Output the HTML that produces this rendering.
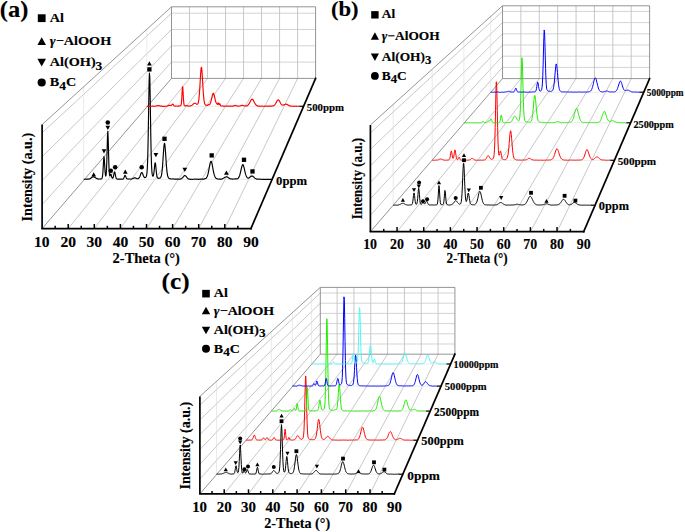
<!DOCTYPE html>
<html><head><meta charset="utf-8"><style>
html,body{margin:0;padding:0;background:#fff;}
svg{display:block;}
text{font-family:"Liberation Serif",serif;font-weight:bold;fill:#000;stroke:#000;stroke-width:0.15px;}
</style></head><body>
<svg width="685" height="532" viewBox="0 0 685 532">
<rect width="685" height="532" fill="#fff"/>
<line x1="189.51" y1="78.4" x2="189.51" y2="6.8" stroke="#b0b0b0" stroke-width="0.7"/>
<line x1="207.53" y1="78.4" x2="207.53" y2="6.8" stroke="#b0b0b0" stroke-width="0.7"/>
<line x1="225.54" y1="78.4" x2="225.54" y2="6.8" stroke="#b0b0b0" stroke-width="0.7"/>
<line x1="243.55" y1="78.4" x2="243.55" y2="6.8" stroke="#b0b0b0" stroke-width="0.7"/>
<line x1="261.56" y1="78.4" x2="261.56" y2="6.8" stroke="#b0b0b0" stroke-width="0.7"/>
<line x1="279.58" y1="78.4" x2="279.58" y2="6.8" stroke="#b0b0b0" stroke-width="0.7"/>
<line x1="297.59" y1="78.4" x2="297.59" y2="6.8" stroke="#b0b0b0" stroke-width="0.7"/>
<line x1="171.5" y1="62.1" x2="315.6" y2="62.1" stroke="#c2c2c2" stroke-width="0.7"/>
<line x1="171.5" y1="45.8" x2="315.6" y2="45.8" stroke="#c2c2c2" stroke-width="0.7"/>
<line x1="171.5" y1="29.5" x2="315.6" y2="29.5" stroke="#c2c2c2" stroke-width="0.7"/>
<line x1="171.5" y1="13.2" x2="315.6" y2="13.2" stroke="#c2c2c2" stroke-width="0.7"/>
<line x1="42.1" y1="204.65" x2="171.5" y2="62.1" stroke="#b0b0b0" stroke-width="0.7"/>
<line x1="42.1" y1="180.7" x2="171.5" y2="45.8" stroke="#b0b0b0" stroke-width="0.7"/>
<line x1="42.1" y1="156.75" x2="171.5" y2="29.5" stroke="#b0b0b0" stroke-width="0.7"/>
<line x1="42.1" y1="132.8" x2="171.5" y2="13.2" stroke="#b0b0b0" stroke-width="0.7"/>
<line x1="68.2" y1="228.6" x2="189.51" y2="78.4" stroke="#b0b0b0" stroke-width="0.7"/>
<line x1="94.3" y1="228.6" x2="207.53" y2="78.4" stroke="#b0b0b0" stroke-width="0.7"/>
<line x1="120.4" y1="228.6" x2="225.54" y2="78.4" stroke="#b0b0b0" stroke-width="0.7"/>
<line x1="146.5" y1="228.6" x2="243.55" y2="78.4" stroke="#b0b0b0" stroke-width="0.7"/>
<line x1="172.6" y1="228.6" x2="261.56" y2="78.4" stroke="#b0b0b0" stroke-width="0.7"/>
<line x1="198.7" y1="228.6" x2="279.58" y2="78.4" stroke="#b0b0b0" stroke-width="0.7"/>
<line x1="224.8" y1="228.6" x2="297.59" y2="78.4" stroke="#b0b0b0" stroke-width="0.7"/>
<line x1="83.7" y1="179.4" x2="272.09" y2="179.4" stroke="#dedede" stroke-width="0.6"/>
<line x1="83.7" y1="86.73" x2="83.7" y2="179.4" stroke="#dcdcdc" stroke-width="0.6"/>
<line x1="146.8" y1="106.3" x2="303.58" y2="106.3" stroke="#dedede" stroke-width="0.6"/>
<line x1="146.8" y1="29.29" x2="146.8" y2="106.3" stroke="#dcdcdc" stroke-width="0.6"/>
<path d="M171.5 78.4L171.5 6.8L315.6 6.8L315.6 78.4" fill="none" stroke="#7a7a7a" stroke-width="0.8"/>
<line x1="171.5" y1="78.4" x2="315.6" y2="78.4" stroke="#7a7a7a" stroke-width="0.8"/>
<line x1="42.1" y1="124.6" x2="171.5" y2="6.8" stroke="#7a7a7a" stroke-width="0.8"/>
<line x1="42.1" y1="228.6" x2="171.5" y2="78.4" stroke="#7a7a7a" stroke-width="0.8"/>
<path d="M83.7 179.3 84.05 179.24 84.4 179.31 84.75 179.23 85.1 179.27 85.45 179.26 85.8 179.19 86.15 179.23 86.5 179.16 86.85 179.19 87.2 179.13 87.55 179.08 87.9 179.11 88.24 179.18 88.59 179.05 88.94 178.95 89.29 178.92 89.64 178.9 89.99 178.74 90.34 178.51 90.69 178.39 91.04 178.02 91.39 177.85 91.74 177.54 92.09 177.23 92.44 176.97 92.79 176.81 93.14 176.82 93.49 176.74 93.84 176.83 94.19 177 94.54 177.15 94.89 177.39 95.24 177.55 95.59 177.74 95.94 177.97 96.29 178.28 96.64 178.47 96.99 178.61 97.33 178.78 97.68 178.87 98.03 178.91 98.38 179.04 98.73 179.09 99.08 179.03 99.43 179.05 99.78 179.04 100.13 179.09 100.48 179.06 100.83 178.92 101.18 178.93 101.53 178.68 101.88 178.39 102.23 177.72 102.58 175.81 102.93 172.06 103.28 166.1 103.63 159.83 103.98 156.65 104.33 159.07 104.68 165.14 105.03 170.95 105.38 174.72 105.73 176.08 106.07 175.15 106.42 171.11 106.77 162.65 107.12 149.79 107.47 136.64 107.82 131.31 108.17 138.03 108.52 151.6 108.87 164.12 109.22 172.04 109.57 175.45 109.92 175.9 110.27 175.04 110.62 174.14 110.97 174.16 111.32 175.42 111.67 176.84 112.02 177.8 112.37 178.17 112.72 178.22 113.07 177.61 113.42 176.49 113.77 174.89 114.12 173.25 114.47 172.03 114.82 172.24 115.16 173.66 115.51 175.57 115.86 177.18 116.21 178.25 116.56 178.72 116.91 178.95 117.26 179.03 117.61 179.17 117.96 179.27 118.31 179.17 118.66 179.12 119.01 179.1 119.36 179.09 119.71 179.14 120.06 179.19 120.41 179.15 120.76 179.08 121.11 179.11 121.46 179.12 121.81 179.16 122.16 179.25 122.51 179.24 122.86 179.14 123.21 178.97 123.56 178.62 123.9 177.86 124.25 177.02 124.6 176.04 124.95 175.4 125.3 175.48 125.65 176.17 126 177.15 126.35 177.96 126.7 178.61 127.05 178.85 127.4 178.95 127.75 179.01 128.1 179.02 128.45 179.06 128.8 179.03 129.15 179 129.5 179.01 129.85 179 130.2 179.04 130.55 178.99 130.9 179.11 131.25 179.11 131.6 178.97 131.95 178.86 132.3 178.74 132.65 178.58 132.99 178.34 133.34 178.25 133.69 178.15 134.04 177.94 134.39 177.84 134.74 177.75 135.09 177.79 135.44 177.97 135.79 178.14 136.14 178.43 136.49 178.52 136.84 178.57 137.19 178.78 137.54 178.8 137.89 178.69 138.24 178.61 138.59 178.31 138.94 178.03 139.29 177.66 139.64 177.05 139.99 176.22 140.34 175.19 140.69 174.18 141.04 173.25 141.39 172.72 141.74 172.51 142.08 172.79 142.43 173.32 142.78 174.09 143.13 175.06 143.48 175.98 143.83 176.69 144.18 177.2 144.53 177.52 144.88 177.65 145.23 177.54 145.58 177.4 145.93 177.06 146.28 176.41 146.63 175.21 146.98 172.85 147.33 168.07 147.68 159.38 148.03 145.33 148.38 125.71 148.73 103.26 149.08 83.29 149.43 73.03 149.78 77.27 150.13 93.97 150.48 116.19 150.82 137.43 151.17 153.93 151.52 164.89 151.87 171.21 152.22 174.4 152.57 175.77 152.92 176.2 153.27 175.9 153.62 174.53 153.97 172.22 154.32 168.96 154.67 165.4 155.02 162.95 155.37 162.94 155.72 165.41 156.07 169.23 156.42 172.73 156.77 175.4 157.12 177.05 157.47 177.77 157.82 178.09 158.17 178.33 158.52 178.39 158.87 178.3 159.22 178.2 159.57 178.1 159.91 178.12 160.26 177.96 160.61 177.49 160.96 176.92 161.31 175.92 161.66 174.21 162.01 171.64 162.36 168.2 162.71 163.74 163.06 158.56 163.41 153.31 163.76 148.37 164.11 144.69 164.46 143.22 164.81 144.15 165.16 147.47 165.51 152.26 165.86 157.53 166.21 162.71 166.56 167.28 166.91 170.93 167.26 173.71 167.61 175.56 167.96 176.8 168.31 177.5 168.65 178.09 169 178.33 169.35 178.5 169.7 178.64 170.05 178.81 170.4 178.82 170.75 178.95 171.1 178.95 171.45 178.97 171.8 178.99 172.15 178.91 172.5 178.96 172.85 178.94 173.2 178.9 173.55 179.04 173.9 179.01 174.25 179.05 174.6 179.13 174.95 179.15 175.3 179.11 175.65 179.14 176 179.16 176.35 179.22 176.7 179.12 177.05 179.15 177.4 179.11 177.74 179.09 178.09 179.18 178.44 179.17 178.79 179.18 179.14 179.22 179.49 179.26 179.84 179.17 180.19 179.12 180.54 179.03 180.89 178.92 181.24 178.81 181.59 178.58 181.94 178.31 182.29 177.97 182.64 177.67 182.99 177.24 183.34 176.83 183.69 176.43 184.04 175.94 184.39 175.66 184.74 175.62 185.09 175.7 185.44 175.79 185.79 176.05 186.14 176.49 186.48 176.88 186.83 177.32 187.18 177.69 187.53 178.14 187.88 178.51 188.23 178.81 188.58 178.87 188.93 179.03 189.28 179.13 189.63 179.1 189.98 179.23 190.33 179.32 190.68 179.23 191.03 179.33 191.38 179.27 191.73 179.26 192.08 179.35 192.43 179.38 192.78 179.26 193.13 179.24 193.48 179.25 193.83 179.22 194.18 179.17 194.53 179.17 194.88 179.25 195.23 179.15 195.57 179.2 195.92 179.21 196.27 179.13 196.62 179.14 196.97 179.21 197.32 179.22 197.67 179.14 198.02 179.27 198.37 179.31 198.72 179.37 199.07 179.23 199.42 179.17 199.77 179.09 200.12 179.18 200.47 179.13 200.82 179.07 201.17 179.09 201.52 179.19 201.87 179.23 202.22 179.13 202.57 179.04 202.92 179.13 203.27 179.11 203.62 179.1 203.97 178.96 204.31 178.84 204.66 178.86 205.01 178.77 205.36 178.58 205.71 178.53 206.06 178.28 206.41 177.96 206.76 177.33 207.11 176.73 207.46 175.72 207.81 174.68 208.16 173.27 208.51 171.62 208.86 169.84 209.21 168.02 209.56 166.04 209.91 164.2 210.26 162.77 210.61 161.73 210.96 161.28 211.31 161.51 211.66 162.34 212.01 163.71 212.36 165.44 212.71 167.34 213.06 169.36 213.4 171.16 213.75 172.85 214.1 174.23 214.45 175.43 214.8 176.32 215.15 177.07 215.5 177.57 215.85 178.09 216.2 178.4 216.55 178.55 216.9 178.71 217.25 178.91 217.6 178.87 217.95 179 218.3 179 218.65 179.03 219 179.11 219.35 179.08 219.7 179.08 220.05 179.11 220.4 179.19 220.75 179.1 221.1 179.12 221.45 179.09 221.8 179.03 222.15 178.9 222.49 178.76 222.84 178.54 223.19 178.35 223.54 178.13 223.89 178.03 224.24 177.77 224.59 177.49 224.94 177.22 225.29 177.13 225.64 177.03 225.99 176.92 226.34 176.8 226.69 176.78 227.04 176.86 227.39 177.04 227.74 177.2 228.09 177.46 228.44 177.69 228.79 178.06 229.14 178.36 229.49 178.52 229.84 178.61 230.19 178.84 230.54 178.88 230.89 178.93 231.23 178.9 231.58 178.97 231.93 179.03 232.28 179.08 232.63 179.04 232.98 179.08 233.33 179 233.68 179 234.03 178.96 234.38 178.99 234.73 178.94 235.08 178.89 235.43 178.9 235.78 178.89 236.13 178.93 236.48 178.91 236.83 178.9 237.18 178.82 237.53 178.69 237.88 178.53 238.23 178.15 238.58 177.67 238.93 177.2 239.28 176.35 239.63 175.46 239.98 174.33 240.32 172.89 240.67 171.5 241.02 170 241.37 168.43 241.72 167 242.07 165.83 242.42 164.91 242.77 164.61 243.12 164.83 243.47 165.62 243.82 166.78 244.17 168.21 244.52 169.72 244.87 171.32 245.22 172.8 245.57 174.13 245.92 175.19 246.27 176.04 246.62 176.73 246.97 177.3 247.32 177.63 247.67 177.97 248.02 178.09 248.37 178.11 248.72 178.03 249.06 177.88 249.41 177.63 249.76 177.25 250.11 177.06 250.46 176.81 250.81 176.51 251.16 176.27 251.51 176.13 251.86 175.95 252.21 176.04 252.56 176.11 252.91 176.24 253.26 176.51 253.61 176.91 253.96 177.19 254.31 177.59 254.66 177.99 255.01 178.23 255.36 178.42 255.71 178.62 256.06 178.82 256.41 178.98 256.76 179.08 257.11 179.15 257.46 179.1 257.81 179.08 258.15 179.1 258.5 179.22 258.85 179.2 259.2 179.25 259.55 179.16 259.9 179.13 260.25 179.15 260.6 179.24 260.95 179.31 261.3 179.34 261.65 179.29 262 179.3 262.35 179.3 262.7 179.3 263.05 179.24 263.4 179.35 263.75 179.28 264.1 179.4 264.45 179.46 264.8 179.32 265.15 179.32 265.5 179.39 265.85 179.47 266.2 179.41 266.55 179.34 266.89 179.28 267.24 179.4 267.59 179.32 267.94 179.35 268.29 179.28" fill="none" stroke="#000" stroke-width="1.15" stroke-linejoin="round"/>
<line x1="267.99" y1="179.4" x2="272.39" y2="179.4" stroke="#000" stroke-width="1.2"/>
<path d="M146.8 106.29 147.15 106.38 147.5 106.27 147.85 106.34 148.2 106.32 148.55 106.38 148.9 106.38 149.24 106.29 149.59 106.36 149.94 106.33 150.29 106.21 150.64 106.14 150.99 106.19 151.34 106.22 151.69 106.2 152.04 106.16 152.39 106.17 152.74 106.17 153.09 106.28 153.44 106.17 153.79 106.25 154.13 106.32 154.48 106.2 154.83 106.28 155.18 106.26 155.53 106.26 155.88 106.1 156.23 105.98 156.58 105.87 156.93 105.87 157.28 105.76 157.63 105.64 157.98 105.59 158.33 105.57 158.68 105.56 159.02 105.62 159.37 105.85 159.72 105.91 160.07 106.1 160.42 106.1 160.77 106.11 161.12 106.17 161.47 106.14 161.82 106.16 162.17 106.29 162.52 106.35 162.87 106.37 163.22 106.35 163.57 106.39 163.91 106.42 164.26 106.36 164.61 106.35 164.96 106.21 165.31 106.26 165.66 106.23 166.01 106.25 166.36 106.23 166.71 106.11 167.06 105.96 167.41 105.99 167.76 105.78 168.11 105.66 168.45 105.51 168.8 105.36 169.15 105.34 169.5 105.4 169.85 105.33 170.2 105.43 170.55 105.45 170.9 105.5 171.25 105.39 171.6 105.07 171.95 104.63 172.3 104.19 172.65 104.1 173 104.27 173.34 104.68 173.69 105.31 174.04 105.81 174.39 106.01 174.74 106.05 175.09 106.06 175.44 106.03 175.79 106.06 176.14 106.02 176.49 106.03 176.84 106.03 177.19 106.1 177.54 106.19 177.89 106.22 178.23 106.16 178.58 106.11 178.93 106.1 179.28 106.04 179.63 105.98 179.98 105.85 180.33 105.76 180.68 105.72 181.03 105.08 181.38 103.39 181.73 99.35 182.08 92.85 182.43 86.84 182.78 86.81 183.12 92.7 183.47 99.28 183.82 103.36 184.17 105.17 184.52 105.76 184.87 105.96 185.22 105.87 185.57 105.75 185.92 105.69 186.27 105.61 186.62 105.55 186.97 105.73 187.32 105.82 187.67 105.94 188.01 106.09 188.36 106.14 188.71 106.17 189.06 106.21 189.41 106.07 189.76 105.94 190.11 105.85 190.46 105.83 190.81 105.8 191.16 105.76 191.51 105.6 191.86 105.38 192.21 105.13 192.55 104.78 192.9 104.44 193.25 103.99 193.6 103.75 193.95 103.42 194.3 103.33 194.65 103.26 195 103.23 195.35 103.3 195.7 103.48 196.05 103.79 196.4 104.07 196.75 104.17 197.1 104.2 197.44 104.18 197.79 103.9 198.14 103.14 198.49 101.76 198.84 99.61 199.19 96.27 199.54 91.85 199.89 86.43 200.24 80.48 200.59 74.58 200.94 69.91 201.29 67.42 201.64 67.88 201.99 71.19 202.33 76.58 202.68 82.68 203.03 88.55 203.38 93.6 203.73 97.68 204.08 100.65 204.43 102.58 204.78 103.75 205.13 104.53 205.48 105.04 205.83 105.19 206.18 105.24 206.53 105.33 206.88 105.38 207.22 105.43 207.57 105.25 207.92 105.1 208.27 104.85 208.62 104.63 208.97 104.53 209.32 104.63 209.67 104.39 210.02 104.01 210.37 103.2 210.72 102.14 211.07 100.98 211.42 99.48 211.76 98.01 212.11 96.41 212.46 94.92 212.81 93.82 213.16 93.28 213.51 93.41 213.86 94.19 214.21 95.24 214.56 96.7 214.91 98.25 215.26 99.94 215.61 101.25 215.96 102.28 216.31 102.87 216.65 103.21 217 103.86 217.35 104.41 217.7 103.92 218.05 102.9 218.4 103.17 218.75 104.35 219.1 104.6 219.45 103.91 219.8 103.68 220.15 104.57 220.5 105.57 220.85 105.91 221.2 105.98 221.54 106 221.89 105.98 222.24 105.94 222.59 105.97 222.94 106.01 223.29 106.16 223.64 106.08 223.99 106.21 224.34 106.13 224.69 106.12 225.04 106.21 225.39 106.26 225.74 106.22 226.09 106.12 226.43 106.14 226.78 106.14 227.13 106.24 227.48 106.17 227.83 106.15 228.18 106.25 228.53 106.14 228.88 106.15 229.23 106.23 229.58 106.27 229.93 106.15 230.28 106.08 230.63 106.04 230.97 106.19 231.32 106.14 231.67 106.2 232.02 106.26 232.37 106.16 232.72 106.07 233.07 106.12 233.42 106.03 233.77 105.86 234.12 105.8 234.47 105.65 234.82 105.52 235.17 105.38 235.52 105.47 235.86 105.61 236.21 105.69 236.56 105.85 236.91 105.81 237.26 105.86 237.61 105.95 237.96 106.12 238.31 106.21 238.66 106.15 239.01 106.06 239.36 106.01 239.71 105.95 240.06 105.95 240.41 105.73 240.75 105.67 241.1 105.57 241.45 105.49 241.8 105.43 242.15 105.4 242.5 105.38 242.85 105.43 243.2 105.53 243.55 105.73 243.9 105.75 244.25 105.8 244.6 105.96 244.95 105.95 245.3 105.9 245.64 105.84 245.99 105.89 246.34 105.84 246.69 105.89 247.04 105.83 247.39 105.72 247.74 105.39 248.09 105 248.44 104.57 248.79 104.17 249.14 103.7 249.49 103.08 249.84 102.35 250.18 101.65 250.53 100.98 250.88 100.36 251.23 99.83 251.58 99.46 251.93 99.23 252.28 99.11 252.63 99.42 252.98 99.77 253.33 100.36 253.68 101 254.03 101.77 254.38 102.4 254.73 103.04 255.07 103.63 255.42 104.13 255.77 104.71 256.12 105.09 256.47 105.34 256.82 105.55 257.17 105.82 257.52 105.91 257.87 105.93 258.22 106.06 258.57 106.11 258.92 106.22 259.27 106.11 259.62 106.12 259.96 106.2 260.31 106.25 260.66 106.3 261.01 106.16 261.36 106.13 261.71 106.07 262.06 106.06 262.41 106.21 262.76 106.22 263.11 106.3 263.46 106.23 263.81 106.29 264.16 106.24 264.51 106.18 264.85 106.24 265.2 106.32 265.55 106.19 265.9 106.21 266.25 106.23 266.6 106.16 266.95 106.15 267.3 106.1 267.65 106.08 268 106.07 268.35 106.14 268.7 106.19 269.05 106.12 269.4 106.04 269.74 106.06 270.09 106.13 270.44 106.07 270.79 106.06 271.14 106.02 271.49 106.11 271.84 106.1 272.19 105.98 272.54 105.89 272.89 105.86 273.24 105.82 273.59 105.74 273.94 105.48 274.28 105.2 274.63 104.97 274.98 104.57 275.33 104.05 275.68 103.46 276.03 102.94 276.38 102.2 276.73 101.53 277.08 100.86 277.43 100.32 277.78 100.03 278.13 99.94 278.48 99.92 278.83 100.13 279.17 100.65 279.52 101.18 279.87 101.76 280.22 102.56 280.57 103.18 280.92 103.82 281.27 104.26 281.62 104.71 281.97 104.94 282.32 105.02 282.67 105.02 283.02 105.08 283.37 105.07 283.72 105.05 284.06 104.79 284.41 104.66 284.76 104.48 285.11 104.35 285.46 104.18 285.81 104.11 286.16 104.16 286.51 104.33 286.86 104.35 287.21 104.53 287.56 104.79 287.91 105.07 288.26 105.17 288.61 105.28 288.95 105.57 289.3 105.8 289.65 105.87 290 105.86 290.35 106.05 290.7 106.07 291.05 106.19 291.4 106.22 291.75 106.28 292.1 106.18 292.45 106.26 292.8 106.19 293.15 106.19 293.49 106.27 293.84 106.33 294.19 106.23 294.54 106.18 294.89 106.19 295.24 106.21 295.59 106.21 295.94 106.15 296.29 106.14 296.64 106.23 296.99 106.32 297.34 106.21 297.69 106.24 298.04 106.3 298.38 106.19 298.73 106.29 299.08 106.2 299.43 106.25 299.78 106.27" fill="none" stroke="#ff0000" stroke-width="1.15" stroke-linejoin="round"/>
<line x1="299.48" y1="106.3" x2="303.88" y2="106.3" stroke="#000" stroke-width="1.2"/>
<path d="M93.7 172.23L96.06 176.53L91.34 176.53Z" fill="#000"/>
<path d="M104 153.56L106.36 149.26L101.64 149.26Z" fill="#000"/>
<path d="M107.8 129.97L110.16 125.66L105.44 125.66Z" fill="#000"/>
<circle cx="107.8" cy="122.6" r="2.26" fill="#000"/>
<circle cx="110.8" cy="170.7" r="2.26" fill="#000"/>
<circle cx="115.2" cy="167.3" r="2.26" fill="#000"/>
<path d="M125.3 169.44L127.66 173.74L122.94 173.74Z" fill="#000"/>
<circle cx="141.7" cy="167.3" r="2.26" fill="#000"/>
<rect x="147.25" y="67.25" width="4.3" height="4.3" fill="#000"/>
<path d="M149.4 61.23L151.77 65.53L147.03 65.53Z" fill="#000"/>
<path d="M155.9 157.37L158.27 153.06L153.53 153.06Z" fill="#000"/>
<rect x="162.35" y="136.65" width="4.3" height="4.3" fill="#000"/>
<path d="M184.8 171.97L187.17 167.66L182.44 167.66Z" fill="#000"/>
<rect x="209.55" y="153.25" width="4.3" height="4.3" fill="#000"/>
<path d="M226.4 170.53L228.77 174.84L224.03 174.84Z" fill="#000"/>
<rect x="241.85" y="157.65" width="4.3" height="4.3" fill="#000"/>
<rect x="250.35" y="169.25" width="4.3" height="4.3" fill="#000"/>
<line x1="42.1" y1="228.6" x2="250.9" y2="228.6" stroke="#000" stroke-width="1.7" stroke-linecap="square"/>
<line x1="42.1" y1="228.6" x2="42.1" y2="124.6" stroke="#000" stroke-width="1.7"/>
<line x1="250.9" y1="228.6" x2="315.6" y2="78.4" stroke="#000" stroke-width="1.7" stroke-linecap="square"/>
<line x1="55.15" y1="228.6" x2="55.15" y2="225.8" stroke="#000" stroke-width="1.5"/>
<line x1="68.2" y1="228.6" x2="68.2" y2="224" stroke="#000" stroke-width="1.5"/>
<line x1="81.25" y1="228.6" x2="81.25" y2="225.8" stroke="#000" stroke-width="1.5"/>
<line x1="94.3" y1="228.6" x2="94.3" y2="224" stroke="#000" stroke-width="1.5"/>
<line x1="107.35" y1="228.6" x2="107.35" y2="225.8" stroke="#000" stroke-width="1.5"/>
<line x1="120.4" y1="228.6" x2="120.4" y2="224" stroke="#000" stroke-width="1.5"/>
<line x1="133.45" y1="228.6" x2="133.45" y2="225.8" stroke="#000" stroke-width="1.5"/>
<line x1="146.5" y1="228.6" x2="146.5" y2="224" stroke="#000" stroke-width="1.5"/>
<line x1="159.55" y1="228.6" x2="159.55" y2="225.8" stroke="#000" stroke-width="1.5"/>
<line x1="172.6" y1="228.6" x2="172.6" y2="224" stroke="#000" stroke-width="1.5"/>
<line x1="185.65" y1="228.6" x2="185.65" y2="225.8" stroke="#000" stroke-width="1.5"/>
<line x1="198.7" y1="228.6" x2="198.7" y2="224" stroke="#000" stroke-width="1.5"/>
<line x1="211.75" y1="228.6" x2="211.75" y2="225.8" stroke="#000" stroke-width="1.5"/>
<line x1="224.8" y1="228.6" x2="224.8" y2="224" stroke="#000" stroke-width="1.5"/>
<line x1="237.85" y1="228.6" x2="237.85" y2="225.8" stroke="#000" stroke-width="1.5"/>
<text transform="translate(34.02 246.9) scale(1.05 1)" font-size="14.8">10</text>
<text transform="translate(60.43 246.9) scale(1.05 1)" font-size="14.8">20</text>
<text transform="translate(86.57 246.9) scale(1.05 1)" font-size="14.8">30</text>
<text transform="translate(112.82 246.9) scale(1.05 1)" font-size="14.8">40</text>
<text transform="translate(138.73 246.9) scale(1.05 1)" font-size="14.8">50</text>
<text transform="translate(164.87 246.9) scale(1.05 1)" font-size="14.8">60</text>
<text transform="translate(190.81 246.9) scale(1.05 1)" font-size="14.8">70</text>
<text transform="translate(217.07 246.9) scale(1.05 1)" font-size="14.8">80</text>
<text transform="translate(243.25 246.9) scale(1.05 1)" font-size="14.8">90</text>
<text transform="translate(276.09 184.5) scale(1.03 1)" font-size="12.33">0ppm</text>
<text transform="translate(306.77 110.5) scale(1.04 1)" font-size="10.38">500ppm</text>
<text transform="translate(112.62 263.1) scale(1.02 1)" font-size="14.2">2-Theta (&#176;)</text>
<text transform="translate(31.6 221.4) rotate(-90) scale(1 1)" font-size="14.2">Intensity (a.u.)</text>
<text transform="translate(-0.2 17.4) scale(1.03 1)" font-size="23.74">(a)</text>
<rect x="37.8" y="14.29" width="7.8" height="7.8" fill="#000"/>
<text transform="translate(49.86 21.9) scale(1.11 1)" font-size="12.8">Al</text>
<path d="M41.7 37.3L45.99 45.1L37.41 45.1Z" fill="#000"/>
<text transform="translate(49.86 45.3) scale(1.11 1)" font-size="12.8"><tspan font-style="italic">&#947;</tspan>&#8722;AlOOH</text>
<path d="M41.7 66.58L45.99 58.78L37.41 58.78Z" fill="#000"/>
<text transform="translate(49.86 66) scale(1.11 1)" font-size="12.8">Al(OH)<tspan dy="3.58" font-size="12.16">3</tspan></text>
<circle cx="41.7" cy="82.49" r="4.09" fill="#000"/>
<text transform="translate(49.86 86.2) scale(1.11 1)" font-size="12.8">B<tspan dy="3.58" font-size="12.16">4</tspan><tspan dy="-3.58">C</tspan></text>
<line x1="520.89" y1="78.6" x2="520.89" y2="5.8" stroke="#b0b0b0" stroke-width="0.7"/>
<line x1="539.27" y1="78.6" x2="539.27" y2="5.8" stroke="#b0b0b0" stroke-width="0.7"/>
<line x1="557.66" y1="78.6" x2="557.66" y2="5.8" stroke="#b0b0b0" stroke-width="0.7"/>
<line x1="576.05" y1="78.6" x2="576.05" y2="5.8" stroke="#b0b0b0" stroke-width="0.7"/>
<line x1="594.44" y1="78.6" x2="594.44" y2="5.8" stroke="#b0b0b0" stroke-width="0.7"/>
<line x1="612.83" y1="78.6" x2="612.83" y2="5.8" stroke="#b0b0b0" stroke-width="0.7"/>
<line x1="631.21" y1="78.6" x2="631.21" y2="5.8" stroke="#b0b0b0" stroke-width="0.7"/>
<line x1="502.5" y1="67.4" x2="649.6" y2="67.4" stroke="#c2c2c2" stroke-width="0.7"/>
<line x1="502.5" y1="56.2" x2="649.6" y2="56.2" stroke="#c2c2c2" stroke-width="0.7"/>
<line x1="502.5" y1="45" x2="649.6" y2="45" stroke="#c2c2c2" stroke-width="0.7"/>
<line x1="502.5" y1="33.8" x2="649.6" y2="33.8" stroke="#c2c2c2" stroke-width="0.7"/>
<line x1="502.5" y1="22.6" x2="649.6" y2="22.6" stroke="#c2c2c2" stroke-width="0.7"/>
<line x1="502.5" y1="11.4" x2="649.6" y2="11.4" stroke="#c2c2c2" stroke-width="0.7"/>
<line x1="370.4" y1="215.25" x2="502.5" y2="67.4" stroke="#b0b0b0" stroke-width="0.7"/>
<line x1="370.4" y1="198.8" x2="502.5" y2="56.2" stroke="#b0b0b0" stroke-width="0.7"/>
<line x1="370.4" y1="182.35" x2="502.5" y2="45" stroke="#b0b0b0" stroke-width="0.7"/>
<line x1="370.4" y1="165.9" x2="502.5" y2="33.8" stroke="#b0b0b0" stroke-width="0.7"/>
<line x1="370.4" y1="149.45" x2="502.5" y2="22.6" stroke="#b0b0b0" stroke-width="0.7"/>
<line x1="370.4" y1="133" x2="502.5" y2="11.4" stroke="#b0b0b0" stroke-width="0.7"/>
<line x1="397.06" y1="231.7" x2="520.89" y2="78.6" stroke="#b0b0b0" stroke-width="0.7"/>
<line x1="423.73" y1="231.7" x2="539.27" y2="78.6" stroke="#b0b0b0" stroke-width="0.7"/>
<line x1="450.39" y1="231.7" x2="557.66" y2="78.6" stroke="#b0b0b0" stroke-width="0.7"/>
<line x1="477.05" y1="231.7" x2="576.05" y2="78.6" stroke="#b0b0b0" stroke-width="0.7"/>
<line x1="503.71" y1="231.7" x2="594.44" y2="78.6" stroke="#b0b0b0" stroke-width="0.7"/>
<line x1="530.38" y1="231.7" x2="612.83" y2="78.6" stroke="#b0b0b0" stroke-width="0.7"/>
<line x1="557.04" y1="231.7" x2="631.21" y2="78.6" stroke="#b0b0b0" stroke-width="0.7"/>
<line x1="393.2" y1="205.2" x2="595.11" y2="205.2" stroke="#dedede" stroke-width="0.6"/>
<line x1="393.2" y1="104.43" x2="393.2" y2="205.2" stroke="#dcdcdc" stroke-width="0.6"/>
<line x1="432.2" y1="160.3" x2="614.43" y2="160.3" stroke="#dedede" stroke-width="0.6"/>
<line x1="432.2" y1="69.23" x2="432.2" y2="160.3" stroke="#dcdcdc" stroke-width="0.6"/>
<line x1="463.9" y1="122.8" x2="630.57" y2="122.8" stroke="#dedede" stroke-width="0.6"/>
<line x1="463.9" y1="40.63" x2="463.9" y2="122.8" stroke="#dcdcdc" stroke-width="0.6"/>
<line x1="490.7" y1="92.2" x2="643.75" y2="92.2" stroke="#dedede" stroke-width="0.6"/>
<line x1="490.7" y1="16.45" x2="490.7" y2="92.2" stroke="#dcdcdc" stroke-width="0.6"/>
<path d="M502.5 78.6L502.5 5.8L649.6 5.8L649.6 78.6" fill="none" stroke="#7a7a7a" stroke-width="0.8"/>
<line x1="502.5" y1="78.6" x2="649.6" y2="78.6" stroke="#7a7a7a" stroke-width="0.8"/>
<line x1="370.4" y1="125" x2="502.5" y2="5.8" stroke="#7a7a7a" stroke-width="0.8"/>
<line x1="370.4" y1="231.7" x2="502.5" y2="78.6" stroke="#7a7a7a" stroke-width="0.8"/>
<path d="M393.2 205.19 393.55 205.14 393.9 205.13 394.25 205.15 394.6 205.14 394.95 205.17 395.3 205.15 395.65 205.13 396 205.03 396.34 205.09 396.69 205.09 397.04 205.03 397.39 205.09 397.74 205.11 398.09 205.04 398.44 204.91 398.79 204.85 399.14 204.7 399.49 204.55 399.84 204.45 400.19 204.25 400.54 204.13 400.89 203.98 401.24 203.72 401.59 203.62 401.93 203.4 402.28 203.37 402.63 203.36 402.98 203.33 403.33 203.27 403.68 203.39 404.03 203.52 404.38 203.8 404.73 203.88 405.08 204.15 405.43 204.41 405.78 204.56 406.13 204.72 406.48 204.72 406.83 204.9 407.18 204.93 407.53 205.05 407.87 205.13 408.22 205.02 408.57 205.08 408.92 205.14 409.27 205 409.62 204.97 409.97 205.02 410.32 204.92 410.67 205 411.02 204.89 411.37 204.89 411.72 204.66 412.07 204.32 412.42 203.57 412.77 201.78 413.12 198.98 413.46 195.69 413.81 193.16 414.16 192.98 414.51 195.34 414.86 198.6 415.21 201.52 415.56 203.28 415.91 204.15 416.26 204.28 416.61 204.18 416.96 203.36 417.31 201.69 417.66 198.63 418.01 194.27 418.36 190.16 418.71 188.35 419.06 190.27 419.4 194.58 419.75 198.76 420.1 201.94 420.45 203.6 420.8 204.25 421.15 204.47 421.5 204.24 421.85 203.92 422.2 203.27 422.55 202.54 422.9 202.19 423.25 202.27 423.6 202.74 423.95 203.45 424.3 203.8 424.65 203.97 424.99 203.61 425.34 203.03 425.69 202.31 426.04 201.53 426.39 201.1 426.74 201.15 427.09 201.66 427.44 202.45 427.79 203.27 428.14 204.02 428.49 204.47 428.84 204.75 429.19 204.98 429.54 204.95 429.89 204.94 430.24 205.02 430.59 204.94 430.93 204.89 431.28 204.93 431.63 204.9 431.98 204.94 432.33 204.93 432.68 204.99 433.03 205.03 433.38 204.98 433.73 205.02 434.08 205.01 434.43 204.93 434.78 205.04 435.13 204.95 435.48 204.86 435.83 204.78 436.18 204.81 436.52 204.82 436.87 204.7 437.22 204.23 437.57 202.97 437.92 199.99 438.27 194.94 438.62 188.91 438.97 185.59 439.32 188.05 439.67 193.93 440.02 199.44 440.37 202.7 440.72 204.02 441.07 204.58 441.42 204.61 441.77 204.69 442.12 204.7 442.46 204.64 442.81 204.51 443.16 204.38 443.51 203.54 443.86 201.71 444.21 198.25 444.56 193.58 444.91 190.47 445.26 191.62 445.61 195.85 445.96 200.18 446.31 202.98 446.66 204.14 447.01 204.56 447.36 204.7 447.71 204.7 448.05 204.87 448.4 204.96 448.75 204.99 449.1 204.87 449.45 204.97 449.8 205 450.15 204.95 450.5 204.96 450.85 204.88 451.2 204.76 451.55 204.6 451.9 204.45 452.25 204.21 452.6 203.99 452.95 203.76 453.3 203.41 453.65 203 453.99 202.49 454.34 201.88 454.69 201.39 455.04 200.96 455.39 200.75 455.74 200.64 456.09 200.68 456.44 201 456.79 201.49 457.14 201.87 457.49 202.44 457.84 202.78 458.19 203.16 458.54 203.47 458.89 203.8 459.24 204.06 459.58 204.15 459.93 204.07 460.28 204.01 460.63 203.6 460.98 202.8 461.33 201.33 461.68 198.35 462.03 193.37 462.38 186.13 462.73 177.39 463.08 168.79 463.43 163.36 463.78 163.39 464.13 168.93 464.48 177.39 464.83 186.15 465.18 193.25 465.52 198 465.87 200.59 466.22 201.58 466.57 201.16 466.92 199.95 467.27 197.81 467.62 195.41 467.97 193.5 468.32 193 468.67 193.92 469.02 195.97 469.37 198.41 469.72 200.61 470.07 202.38 470.42 203.5 470.77 204.13 471.11 204.47 471.46 204.5 471.81 204.61 472.16 204.63 472.51 204.73 472.86 204.79 473.21 204.84 473.56 204.69 473.91 204.74 474.26 204.75 474.61 204.72 474.96 204.46 475.31 204.2 475.66 203.86 476.01 203.4 476.36 202.94 476.71 202.22 477.05 201.21 477.4 200 477.75 198.53 478.1 196.85 478.45 195.13 478.8 193.55 479.15 192.4 479.5 191.55 479.85 191.33 480.2 191.74 480.55 192.62 480.9 193.98 481.25 195.57 481.6 197.31 481.95 198.87 482.3 200.26 482.64 201.58 482.99 202.52 483.34 203.32 483.69 203.85 484.04 204.1 484.39 204.37 484.74 204.55 485.09 204.74 485.44 204.77 485.79 204.87 486.14 204.91 486.49 204.87 486.84 204.98 487.19 204.9 487.54 205 487.89 204.93 488.24 204.86 488.58 204.87 488.93 204.98 489.28 205.1 489.63 204.98 489.98 205 490.33 205.02 490.68 205.09 491.03 205.01 491.38 205.03 491.73 205.01 492.08 205.09 492.43 205.03 492.78 205.13 493.13 205.06 493.48 205 493.83 205.05 494.17 205.04 494.52 204.95 494.87 204.99 495.22 204.89 495.57 204.95 495.92 204.94 496.27 204.91 496.62 204.81 496.97 204.63 497.32 204.46 497.67 204.26 498.02 204.14 498.37 203.79 498.72 203.63 499.07 203.25 499.42 202.97 499.77 202.73 500.11 202.67 500.46 202.55 500.81 202.48 501.16 202.61 501.51 202.65 501.86 202.84 502.21 203.08 502.56 203.39 502.91 203.69 503.26 203.94 503.61 204.12 503.96 204.29 504.31 204.41 504.66 204.66 505.01 204.8 505.36 204.93 505.7 204.9 506.05 204.95 506.4 205.05 506.75 205.07 507.1 205 507.45 205.03 507.8 205.13 508.15 205.06 508.5 205.01 508.85 205 509.2 205.08 509.55 205.15 509.9 205.06 510.25 205 510.6 204.98 510.95 204.98 511.3 205.02 511.64 204.96 511.99 204.96 512.34 204.91 512.69 205.03 513.04 205.03 513.39 204.89 513.74 204.94 514.09 204.78 514.44 204.7 514.79 204.74 515.14 204.69 515.49 204.62 515.84 204.49 516.19 204.34 516.54 204.34 516.89 204.23 517.23 204.2 517.58 204.24 517.93 204.23 518.28 204.33 518.63 204.5 518.98 204.61 519.33 204.67 519.68 204.76 520.03 204.79 520.38 204.76 520.73 204.85 521.08 204.86 521.43 204.94 521.78 205.01 522.13 204.95 522.48 204.93 522.83 204.93 523.17 204.84 523.52 204.71 523.87 204.68 524.22 204.63 524.57 204.48 524.92 204.27 525.27 204.03 525.62 203.69 525.97 203.26 526.32 202.73 526.67 202.12 527.02 201.51 527.37 200.73 527.72 200 528.07 199.32 528.42 198.61 528.77 197.91 529.11 197.22 529.46 196.72 529.81 196.4 530.16 196.31 530.51 196.37 530.86 196.69 531.21 197.22 531.56 197.71 531.91 198.43 532.26 199.21 532.61 199.92 532.96 200.66 533.31 201.45 533.66 201.97 534.01 202.56 534.36 203 534.7 203.5 535.05 203.93 535.4 204.18 535.75 204.3 536.1 204.5 536.45 204.64 536.8 204.78 537.15 204.84 537.5 204.91 537.85 205 538.2 205 538.55 204.98 538.9 205.07 539.25 204.99 539.6 205.03 539.95 205 540.3 205.05 540.64 204.96 540.99 205.06 541.34 204.99 541.69 204.87 542.04 204.83 542.39 204.8 542.74 204.68 543.09 204.64 543.44 204.58 543.79 204.54 544.14 204.4 544.49 204.24 544.84 204.08 545.19 204.04 545.54 204.03 545.89 203.92 546.23 203.79 546.58 203.85 546.93 203.84 547.28 203.85 547.63 203.89 547.98 204.11 548.33 204.3 548.68 204.44 549.03 204.53 549.38 204.65 549.73 204.68 550.08 204.88 550.43 204.89 550.78 204.97 551.13 205.06 551.48 205.12 551.83 205.09 552.17 205.04 552.52 205.06 552.87 204.98 553.22 205.08 553.57 205.04 553.92 205.12 554.27 205.05 554.62 205.02 554.97 204.98 555.32 204.98 555.67 204.93 556.02 204.86 556.37 204.95 556.72 204.9 557.07 204.84 557.42 204.79 557.76 204.75 558.11 204.67 558.46 204.59 558.81 204.46 559.16 204.2 559.51 204.02 559.86 203.73 560.21 203.21 560.56 202.83 560.91 202.39 561.26 201.87 561.61 201.2 561.96 200.72 562.31 200.23 562.66 199.7 563.01 199.33 563.36 199.33 563.7 199.37 564.05 199.47 564.4 199.72 564.75 200.11 565.1 200.61 565.45 201.25 565.8 201.78 566.15 202.25 566.5 202.86 566.85 203.34 567.2 203.62 567.55 204.02 567.9 204.27 568.25 204.49 568.6 204.63 568.95 204.77 569.29 204.82 569.64 204.85 569.99 204.7 570.34 204.67 570.69 204.56 571.04 204.46 571.39 204.25 571.74 204.11 572.09 203.85 572.44 203.53 572.79 203.22 573.14 202.92 573.49 202.75 573.84 202.51 574.19 202.45 574.54 202.38 574.89 202.48 575.23 202.64 575.58 202.86 575.93 203.17 576.28 203.31 576.63 203.67 576.98 203.9 577.33 204.15 577.68 204.38 578.03 204.61 578.38 204.7 578.73 204.79 579.08 204.97 579.43 204.92 579.78 205.01 580.13 205.07 580.48 204.99 580.82 205.06 581.17 205.12 581.52 205.21 581.87 205.14 582.22 205.23 582.57 205.2 582.92 205.17 583.27 205.24 583.62 205.11 583.97 205.17 584.32 205.18 584.67 205.14 585.02 205.22 585.37 205.16 585.72 205.16 586.07 205.16 586.42 205.21 586.76 205.14 587.11 205.13 587.46 205.13 587.81 205.15 588.16 205.22 588.51 205.16 588.86 205.23 589.21 205.19 589.56 205.18 589.91 205.13 590.26 205.15 590.61 205.25 590.96 205.25 591.31 205.28" fill="none" stroke="#000" stroke-width="1.0" stroke-linejoin="round"/>
<line x1="591.01" y1="205.2" x2="595.41" y2="205.2" stroke="#000" stroke-width="1.2"/>
<path d="M432.2 160.23 432.55 160.21 432.9 160.19 433.25 160.24 433.6 160.27 433.95 160.32 434.3 160.2 434.65 160.26 435 160.33 435.35 160.29 435.7 160.17 436.05 160.13 436.4 160.03 436.75 159.98 437.1 160.07 437.45 160.02 437.8 159.94 438.15 159.86 438.5 159.77 438.85 159.59 439.2 159.42 439.55 159.27 439.9 159.17 440.25 159.09 440.6 159.08 440.95 159.03 441.3 159.16 441.65 159.27 442 159.47 442.35 159.51 442.7 159.61 443.05 159.68 443.4 159.89 443.75 160.07 444.1 160.14 444.45 160.13 444.8 160.22 445.15 160.26 445.5 160.24 445.84 160.17 446.19 160.13 446.54 160.12 446.89 160.09 447.24 160.09 447.59 160.12 447.94 160.18 448.29 160.02 448.64 159.98 448.99 159.75 449.34 159.38 449.69 158.77 450.04 157.44 450.39 155.5 450.74 153.13 451.09 151.27 451.44 151.08 451.79 152.61 452.14 154.94 452.49 157.02 452.84 158.2 453.19 158.45 453.54 157.68 453.89 156.08 454.24 153.64 454.59 151.19 454.94 149.87 455.29 150.52 455.64 152.83 455.99 155.35 456.34 157.56 456.69 158.76 457.04 159.51 457.39 159.65 457.74 159.49 458.09 159.15 458.44 158.32 458.79 157.53 459.14 157.15 459.49 157.62 459.84 158.65 460.19 159.48 460.54 159.97 460.89 160.16 461.24 160.11 461.59 160.17 461.94 160.22 462.29 160.2 462.64 160.29 462.99 160.21 463.34 160.3 463.69 160.31 464.04 160.17 464.39 160.09 464.74 160.17 465.09 160.25 465.44 160.15 465.79 160.14 466.14 160.21 466.49 160.14 466.84 160.24 467.19 160.22 467.54 160.11 467.89 160.11 468.24 160.13 468.59 160.1 468.94 160.09 469.29 159.93 469.64 159.89 469.99 159.68 470.34 159.49 470.69 159.24 471.04 158.92 471.39 158.62 471.74 158.47 472.09 158.42 472.43 158.46 472.78 158.57 473.13 158.73 473.48 158.92 473.83 159.33 474.18 159.61 474.53 159.85 474.88 159.93 475.23 160.05 475.58 160.2 475.93 160.26 476.28 160.25 476.63 160.18 476.98 160.16 477.33 160.25 477.68 160.19 478.03 160.22 478.38 160.22 478.73 160.28 479.08 160.29 479.43 160.19 479.78 160.08 480.13 160.06 480.48 160.08 480.83 160.12 481.18 160.18 481.53 160.23 481.88 160.09 482.23 160.16 482.58 160.19 482.93 160.21 483.28 160.15 483.63 160.04 483.98 160.07 484.33 160.03 484.68 159.92 485.03 159.8 485.38 159.46 485.73 159.01 486.08 158.57 486.43 158.05 486.78 157.32 487.13 156.71 487.48 156.2 487.83 155.72 488.18 155.63 488.53 155.85 488.88 156.27 489.23 156.78 489.58 157.37 489.93 158.02 490.28 158.55 490.63 158.87 490.98 159 491.33 159.2 491.68 159.27 492.03 159.14 492.38 159.05 492.73 158.95 493.08 158.7 493.43 158.13 493.78 157 494.13 154.65 494.48 149.79 494.83 141.1 495.18 127.7 495.53 110.62 495.88 93.29 496.23 81.88 496.58 81.89 496.93 93.37 497.28 110.6 497.63 127.64 497.98 141.05 498.33 149.46 498.68 153.75 499.03 155.32 499.37 155.05 499.72 153.54 500.07 151.9 500.42 150.97 500.77 151.6 501.12 153.33 501.47 155.42 501.82 157.33 502.17 158.52 502.52 159.09 502.87 159.36 503.22 159.42 503.57 159.55 503.92 159.54 504.27 159.64 504.62 159.65 504.97 159.66 505.32 159.66 505.67 159.48 506.02 159.26 506.37 159.04 506.72 158.7 507.07 158.13 507.42 157.21 507.77 155.9 508.12 153.96 508.47 151.12 508.82 147.63 509.17 143.5 509.52 138.97 509.87 134.96 510.22 131.99 510.57 130.72 510.92 131.72 511.27 134.36 511.62 138.28 511.97 142.7 512.32 147.03 512.67 150.74 513.02 153.64 513.37 155.81 513.72 157.24 514.07 158.34 514.42 159.02 514.77 159.27 515.12 159.39 515.47 159.51 515.82 159.62 516.17 159.8 516.52 159.92 516.87 159.99 517.22 159.89 517.57 159.98 517.92 160.03 518.27 160.06 518.62 160.15 518.97 160.02 519.32 159.97 519.67 160.06 520.02 160.16 520.37 160.17 520.72 160.1 521.07 160.12 521.42 160.17 521.77 160.07 522.12 160.05 522.47 160.03 522.82 159.99 523.17 160.04 523.52 160 523.87 159.99 524.22 159.96 524.57 160.03 524.92 159.92 525.27 159.97 525.62 159.85 525.96 159.7 526.31 159.71 526.66 159.49 527.01 159.41 527.36 159.25 527.71 159.06 528.06 158.71 528.41 158.5 528.76 158.28 529.11 158.34 529.46 158.42 529.81 158.51 530.16 158.64 530.51 158.81 530.86 159.11 531.21 159.3 531.56 159.53 531.91 159.62 532.26 159.73 532.61 159.79 532.96 159.97 533.31 160.06 533.66 160.03 534.01 160.17 534.36 160.13 534.71 160.14 535.06 160.09 535.41 160.09 535.76 160.2 536.11 160.17 536.46 160.12 536.81 160.15 537.16 160.14 537.51 160.24 537.86 160.15 538.21 160.27 538.56 160.16 538.91 160.26 539.26 160.27 539.61 160.19 539.96 160.19 540.31 160.15 540.66 160.13 541.01 160.1 541.36 160.11 541.71 160.24 542.06 160.33 542.41 160.36 542.76 160.21 543.11 160.16 543.46 160.25 543.81 160.14 544.16 160.2 544.51 160.15 544.86 160.25 545.21 160.12 545.56 160.2 545.91 160.15 546.26 160.08 546.61 160 546.96 160.12 547.31 160.13 547.66 160.06 548.01 160.06 548.36 160.15 548.71 160.06 549.06 160.07 549.41 159.98 549.76 159.92 550.11 159.98 550.46 159.98 550.81 159.84 551.16 159.68 551.51 159.51 551.86 159.41 552.21 159.18 552.55 158.82 552.9 158.35 553.25 157.85 553.6 157.21 553.95 156.43 554.3 155.45 554.65 154.29 555 153.07 555.35 152 555.7 150.89 556.05 149.99 556.4 149.15 556.75 148.81 557.1 148.69 557.45 149.06 557.8 149.73 558.15 150.56 558.5 151.49 558.85 152.74 559.2 153.87 559.55 155.05 559.9 155.98 560.25 156.8 560.6 157.65 560.95 158.22 561.3 158.65 561.65 159.03 562 159.36 562.35 159.47 562.7 159.67 563.05 159.79 563.4 159.89 563.75 159.88 564.1 159.99 564.45 160.09 564.8 160.16 565.15 160.1 565.5 160.15 565.85 160.11 566.2 160.17 566.55 160.07 566.9 160.17 567.25 160.25 567.6 160.21 567.95 160.19 568.3 160.19 568.65 160.19 569 160.08 569.35 160.21 569.7 160.14 570.05 160.09 570.4 160.05 570.75 160.05 571.1 160.17 571.45 160.08 571.8 160.04 572.15 160.14 572.5 160.09 572.85 160.03 573.2 160.11 573.55 160.15 573.9 160.17 574.25 160.21 574.6 160.12 574.95 160.21 575.3 160.24 575.65 160.12 576 160.06 576.35 160.09 576.7 160.11 577.05 160.08 577.4 160.03 577.75 160.05 578.1 160 578.45 160.06 578.8 160.14 579.15 160.04 579.49 160.06 579.84 160.1 580.19 159.99 580.54 160.04 580.89 160.07 581.24 159.93 581.59 159.8 581.94 159.73 582.29 159.51 582.64 159.2 582.99 158.91 583.34 158.44 583.69 157.74 584.04 156.9 584.39 155.97 584.74 154.94 585.09 153.94 585.44 152.83 585.79 151.78 586.14 150.85 586.49 150.16 586.84 149.65 587.19 149.66 587.54 150.15 587.89 150.92 588.24 151.76 588.59 152.82 588.94 153.98 589.29 155.05 589.64 156.08 589.99 156.88 590.34 157.65 590.69 158.27 591.04 158.64 591.39 158.95 591.74 159.31 592.09 159.49 592.44 159.6 592.79 159.55 593.14 159.49 593.49 159.38 593.84 159.2 594.19 158.8 594.54 158.55 594.89 158.19 595.24 157.92 595.59 157.56 595.94 157.3 596.29 157.17 596.64 157.02 596.99 156.89 597.34 156.95 597.69 157.09 598.04 157.42 598.39 157.64 598.74 157.92 599.09 158.3 599.44 158.54 599.79 158.89 600.14 159.26 600.49 159.46 600.84 159.59 601.19 159.74 601.54 159.87 601.89 159.89 602.24 159.91 602.59 159.94 602.94 159.99 603.29 160.05 603.64 160.06 603.99 160.07 604.34 160.04 604.69 160.12 605.04 160.22 605.39 160.24 605.74 160.25 606.08 160.27 606.43 160.19 606.78 160.25 607.13 160.24 607.48 160.25 607.83 160.27 608.18 160.25 608.53 160.21 608.88 160.17 609.23 160.15 609.58 160.19 609.93 160.19 610.28 160.23 610.63 160.15" fill="none" stroke="#ff0000" stroke-width="1.0" stroke-linejoin="round"/>
<line x1="610.33" y1="160.3" x2="614.73" y2="160.3" stroke="#000" stroke-width="1.2"/>
<path d="M463.9 122.76 464.25 122.84 464.6 122.77 464.95 122.79 465.3 122.78 465.65 122.74 466 122.86 466.35 122.79 466.7 122.84 467.05 122.75 467.4 122.68 467.74 122.79 468.09 122.78 468.44 122.69 468.79 122.71 469.14 122.72 469.49 122.79 469.84 122.71 470.19 122.68 470.54 122.81 470.89 122.85 471.24 122.75 471.59 122.73 471.94 122.72 472.29 122.78 472.64 122.8 472.99 122.86 473.34 122.89 473.69 122.85 474.04 122.87 474.39 122.88 474.74 122.89 475.08 122.84 475.43 122.87 475.78 122.87 476.13 122.91 476.48 122.78 476.83 122.85 477.18 122.72 477.53 122.79 477.88 122.8 478.23 122.78 478.58 122.86 478.93 122.84 479.28 122.78 479.63 122.83 479.98 122.87 480.33 122.83 480.68 122.75 481.03 122.7 481.38 122.61 481.73 122.5 482.07 122.19 482.42 121.86 482.77 121.6 483.12 121.47 483.47 121.58 483.82 121.95 484.17 122.31 484.52 122.51 484.87 122.61 485.22 122.6 485.57 122.6 485.92 122.55 486.27 122.58 486.62 122.54 486.97 122.29 487.32 122.11 487.67 121.62 488.02 121.23 488.37 120.95 488.72 120.98 489.07 121.07 489.41 121.18 489.76 121.07 490.11 120.34 490.46 119.43 490.81 118.84 491.16 118.86 491.51 119.64 491.86 120.66 492.21 121.52 492.56 122.2 492.91 122.49 493.26 122.61 493.61 122.69 493.96 122.67 494.31 122.65 494.66 122.68 495.01 122.66 495.36 122.76 495.71 122.76 496.06 122.73 496.41 122.63 496.75 122.62 497.1 122.61 497.45 122.64 497.8 122.65 498.15 122.71 498.5 122.74 498.85 122.64 499.2 122.5 499.55 122.25 499.9 121.67 500.25 120.25 500.6 118.18 500.95 116.08 501.3 114.98 501.65 115.93 502 118.18 502.35 120.28 502.7 121.58 503.05 122.13 503.4 122.49 503.74 122.6 504.09 122.67 504.44 122.75 504.79 122.77 505.14 122.69 505.49 122.59 505.84 122.56 506.19 122.58 506.54 122.59 506.89 122.53 507.24 122.49 507.59 122.55 507.94 122.57 508.29 122.53 508.64 122.62 508.99 122.59 509.34 122.44 509.69 122.39 510.04 122.39 510.39 122.24 510.74 122.13 511.08 121.8 511.43 121.49 511.78 121.19 512.13 120.69 512.48 120.09 512.83 119.3 513.18 118.54 513.53 117.78 513.88 117.03 514.23 116.52 514.58 116.18 514.93 116.21 515.28 116.4 515.63 116.81 515.98 117.34 516.33 117.99 516.68 118.79 517.03 119.36 517.38 119.86 517.73 120.27 518.08 120.62 518.42 120.86 518.77 120.82 519.12 120.5 519.47 119.39 519.82 117.04 520.17 112.55 520.52 104.5 520.87 92.71 521.22 78.3 521.57 64.92 521.92 57.78 522.27 60.52 522.62 71.79 522.97 86.28 523.32 99.57 523.67 109.4 524.02 115.47 524.37 118.65 524.72 120.33 525.07 121.06 525.41 121.51 525.76 121.66 526.11 121.81 526.46 121.84 526.81 121.84 527.16 122.02 527.51 122.13 527.86 122.08 528.21 122.17 528.56 122.21 528.91 122.11 529.26 122.1 529.61 122.14 529.96 122.03 530.31 121.98 530.66 121.68 531.01 121.31 531.36 120.79 531.71 119.79 532.06 118.33 532.41 116.35 532.75 113.53 533.1 110.09 533.45 106.03 533.8 101.91 534.15 98.34 534.5 95.89 534.85 95.35 535.2 96.54 535.55 99.4 535.9 103.12 536.25 107.26 536.6 111.12 536.95 114.43 537.3 116.96 537.65 118.82 538 120.22 538.35 121.02 538.7 121.49 539.05 121.77 539.4 121.95 539.75 122.06 540.09 122.1 540.44 122.25 540.79 122.29 541.14 122.29 541.49 122.41 541.84 122.37 542.19 122.39 542.54 122.52 542.89 122.46 543.24 122.49 543.59 122.6 543.94 122.66 544.29 122.57 544.64 122.56 544.99 122.63 545.34 122.61 545.69 122.71 546.04 122.63 546.39 122.73 546.74 122.7 547.08 122.63 547.43 122.63 547.78 122.57 548.13 122.65 548.48 122.61 548.83 122.72 549.18 122.72 549.53 122.68 549.88 122.63 550.23 122.67 550.58 122.62 550.93 122.72 551.28 122.63 551.63 122.65 551.98 122.67 552.33 122.63 552.68 122.7 553.03 122.66 553.38 122.69 553.73 122.68 554.08 122.61 554.42 122.56 554.77 122.43 555.12 122.33 555.47 122.33 555.82 122.15 556.17 122.03 556.52 121.76 556.87 121.64 557.22 121.5 557.57 121.47 557.92 121.48 558.27 121.52 558.62 121.69 558.97 121.86 559.32 122.01 559.67 122.26 560.02 122.36 560.37 122.45 560.72 122.62 561.07 122.69 561.42 122.76 561.76 122.79 562.11 122.67 562.46 122.62 562.81 122.54 563.16 122.62 563.51 122.66 563.86 122.63 564.21 122.61 564.56 122.65 564.91 122.68 565.26 122.61 565.61 122.68 565.96 122.62 566.31 122.64 566.66 122.55 567.01 122.48 567.36 122.59 567.71 122.62 568.06 122.62 568.41 122.48 568.75 122.38 569.1 122.33 569.45 122.29 569.8 122.26 570.15 122.22 570.5 122.06 570.85 121.95 571.2 121.83 571.55 121.52 571.9 121.26 572.25 120.78 572.6 120.19 572.95 119.33 573.3 118.36 573.65 117.28 574 115.96 574.35 114.48 574.7 113.16 575.05 111.81 575.4 110.46 575.75 109.32 576.09 108.72 576.44 108.43 576.79 108.49 577.14 109.06 577.49 109.97 577.84 111.3 578.19 112.63 578.54 114.18 578.89 115.62 579.24 116.82 579.59 118.05 579.94 119.04 580.29 119.94 580.64 120.67 580.99 121.11 581.34 121.43 581.69 121.85 582.04 122.03 582.39 122.26 582.74 122.37 583.09 122.46 583.43 122.54 583.78 122.56 584.13 122.54 584.48 122.45 584.83 122.53 585.18 122.53 585.53 122.55 585.88 122.65 586.23 122.56 586.58 122.63 586.93 122.53 587.28 122.61 587.63 122.67 587.98 122.61 588.33 122.63 588.68 122.72 589.03 122.71 589.38 122.69 589.73 122.62 590.08 122.54 590.42 122.55 590.77 122.57 591.12 122.54 591.47 122.54 591.82 122.5 592.17 122.6 592.52 122.64 592.87 122.58 593.22 122.55 593.57 122.58 593.92 122.58 594.27 122.68 594.62 122.61 594.97 122.56 595.32 122.64 595.67 122.54 596.02 122.55 596.37 122.51 596.72 122.57 597.07 122.54 597.42 122.54 597.76 122.4 598.11 122.38 598.46 122.3 598.81 122.15 599.16 122.02 599.51 121.82 599.86 121.37 600.21 120.9 600.56 120.34 600.91 119.62 601.26 118.75 601.61 117.82 601.96 116.76 602.31 115.73 602.66 114.61 603.01 113.47 603.36 112.53 603.71 111.85 604.06 111.42 604.41 111.31 604.76 111.55 605.1 112.12 605.45 113.15 605.8 114.23 606.15 115.24 606.5 116.43 606.85 117.59 607.2 118.53 607.55 119.27 607.9 119.98 608.25 120.52 608.6 120.88 608.95 121.2 609.3 121.28 609.65 121.48 610 121.49 610.35 121.43 610.7 121.38 611.05 121.23 611.4 121 611.75 120.81 612.09 120.66 612.44 120.55 612.79 120.67 613.14 120.81 613.49 120.86 613.84 120.96 614.19 121.2 614.54 121.47 614.89 121.73 615.24 121.8 615.59 122.03 615.94 122.23 616.29 122.37 616.64 122.39 616.99 122.4 617.34 122.55 617.69 122.55 618.04 122.57 618.39 122.62 618.74 122.62 619.09 122.72 619.43 122.66 619.78 122.58 620.13 122.65 620.48 122.7 620.83 122.77 621.18 122.79 621.53 122.85 621.88 122.89 622.23 122.82 622.58 122.79 622.93 122.7 623.28 122.67 623.63 122.72 623.98 122.64 624.33 122.72 624.68 122.66 625.03 122.69 625.38 122.81 625.73 122.7 626.08 122.63 626.43 122.67 626.77 122.64" fill="none" stroke="#22ee00" stroke-width="1.0" stroke-linejoin="round"/>
<line x1="626.47" y1="122.8" x2="630.87" y2="122.8" stroke="#000" stroke-width="1.2"/>
<path d="M490.7 92.23 491.05 92.11 491.4 92.21 491.75 92.27 492.1 92.29 492.45 92.24 492.8 92.17 493.15 92.21 493.5 92.2 493.85 92.18 494.2 92.15 494.54 92.15 494.89 92.2 495.24 92.26 495.59 92.31 495.94 92.19 496.29 92.15 496.64 92.15 496.99 92.17 497.34 92.15 497.69 92.1 498.04 92.05 498.39 92.06 498.74 92.1 499.09 92.23 499.44 92.29 499.79 92.32 500.14 92.35 500.49 92.37 500.84 92.32 501.19 92.32 501.54 92.17 501.88 92.21 502.23 92.21 502.58 92.15 502.93 92.17 503.28 92.26 503.63 92.21 503.98 92.22 504.33 92.15 504.68 92.11 505.03 92.18 505.38 92.04 505.73 91.96 506.08 91.98 506.43 91.89 506.78 91.72 507.13 91.67 507.48 91.52 507.83 91.43 508.18 91.32 508.53 91.29 508.88 91.33 509.22 91.37 509.57 91.41 509.92 91.51 510.27 91.76 510.62 91.87 510.97 91.87 511.32 92.03 511.67 92.01 512.02 91.97 512.37 92.02 512.72 91.99 513.07 92.01 513.42 91.99 513.77 91.83 514.12 91.6 514.47 91.02 514.82 90.25 515.17 89.29 515.52 88.37 515.87 88.14 516.22 88.6 516.56 89.6 516.91 90.66 517.26 91.36 517.61 91.81 517.96 92.04 518.31 92.01 518.66 92.16 519.01 92.19 519.36 92.08 519.71 92.16 520.06 92.13 520.41 92.06 520.76 92.18 521.11 92.17 521.46 92.21 521.81 92.1 522.16 92.17 522.51 92.06 522.86 92.04 523.21 92.05 523.56 91.98 523.9 92.06 524.25 92.03 524.6 92.03 524.95 92.1 525.3 92.1 525.65 92.18 526 92.18 526.35 92.23 526.7 92.19 527.05 92.24 527.4 92.26 527.75 92.13 528.1 92.16 528.45 92.1 528.8 92.15 529.15 92.16 529.5 92.19 529.85 92.06 530.2 92.04 530.55 92.09 530.9 92.16 531.24 92.15 531.59 92.01 531.94 92.03 532.29 91.93 532.64 91.96 532.99 92.02 533.34 91.91 533.69 91.99 534.04 91.97 534.39 91.86 534.74 91.75 535.09 91.68 535.44 91.59 535.79 91.18 536.14 90.22 536.49 88.6 536.84 86.31 537.19 83.94 537.54 82.16 537.89 82.23 538.24 83.95 538.58 86.44 538.93 88.56 539.28 89.92 539.63 90.76 539.98 91.03 540.33 91.09 540.68 91.03 541.03 90.86 541.38 90.26 541.73 89.28 542.08 87.17 542.43 83.07 542.78 75.85 543.13 64.86 543.48 51.01 543.83 37.72 544.18 29.94 544.53 31.44 544.88 41.4 545.23 55.24 545.58 68.32 545.92 78.37 546.27 84.61 546.62 88.1 546.97 89.74 547.32 90.39 547.67 90.74 548.02 90.92 548.37 91.17 548.72 91.28 549.07 91.25 549.42 91.26 549.77 91.31 550.12 91.35 550.47 91.4 550.82 91.37 551.17 91.32 551.52 91.17 551.87 91.11 552.22 90.89 552.57 90.44 552.91 89.85 553.26 88.95 553.61 87.26 553.96 84.95 554.31 82.02 554.66 78.27 555.01 74.1 555.36 69.98 555.71 66.41 556.06 64.24 556.41 63.89 556.76 65.58 557.11 68.79 557.46 72.66 557.81 76.9 558.16 80.87 558.51 84.22 558.86 86.79 559.21 88.6 559.56 89.82 559.91 90.55 560.25 90.97 560.6 91.33 560.95 91.57 561.3 91.73 561.65 91.78 562 91.75 562.35 91.84 562.7 91.9 563.05 91.9 563.4 91.93 563.75 91.9 564.1 91.93 564.45 91.92 564.8 91.86 565.15 91.88 565.5 91.89 565.85 92.04 566.2 92.03 566.55 92 566.9 91.96 567.25 91.94 567.59 91.95 567.94 91.92 568.29 91.88 568.64 92.03 568.99 92.03 569.34 92.04 569.69 92.07 570.04 92.03 570.39 91.99 570.74 91.94 571.09 91.96 571.44 91.97 571.79 92.07 572.14 92.09 572.49 92.18 572.84 92.11 573.19 92.19 573.54 92.17 573.89 92.06 574.24 92.01 574.59 92.06 574.93 92.18 575.28 92.12 575.63 92.17 575.98 92.13 576.33 92.19 576.68 92.07 577.03 92.08 577.38 92.17 577.73 92.1 578.08 92.05 578.43 91.97 578.78 91.96 579.13 91.97 579.48 92.06 579.83 92.02 580.18 92.03 580.53 91.99 580.88 92.05 581.23 92.13 581.58 92.14 581.93 92.05 582.27 92.11 582.62 92.18 582.97 92.16 583.32 92.03 583.67 92.1 584.02 92.15 584.37 92.07 584.72 91.98 585.07 91.94 585.42 91.97 585.77 92.06 586.12 92.06 586.47 92.11 586.82 91.99 587.17 91.93 587.52 91.98 587.87 91.97 588.22 91.9 588.57 91.9 588.92 91.8 589.27 91.65 589.61 91.58 589.96 91.38 590.31 91.26 590.66 90.97 591.01 90.61 591.36 90.12 591.71 89.39 592.06 88.52 592.41 87.37 592.76 86.25 593.11 84.84 593.46 83.42 593.81 81.77 594.16 80.38 594.51 79.21 594.86 78.31 595.21 77.83 595.56 77.92 595.91 78.52 596.26 79.66 596.61 80.91 596.95 82.5 597.3 84.01 597.65 85.49 598 86.85 598.35 88.03 598.7 89.03 599.05 89.82 599.4 90.37 599.75 90.88 600.1 91.14 600.45 91.43 600.8 91.63 601.15 91.77 601.5 91.77 601.85 91.87 602.2 91.97 602.55 91.93 602.9 91.86 603.25 91.85 603.6 91.91 603.95 91.75 604.29 91.58 604.64 91.51 604.99 91.43 605.34 91.35 605.69 91.16 606.04 91.15 606.39 91.01 606.74 91.07 607.09 91.05 607.44 91.11 607.79 91.24 608.14 91.36 608.49 91.56 608.84 91.73 609.19 91.76 609.54 91.95 609.89 91.94 610.24 91.89 610.59 91.87 610.94 91.96 611.29 92.05 611.63 91.95 611.98 91.86 612.33 91.95 612.68 91.89 613.03 92 613.38 91.95 613.73 91.94 614.08 91.85 614.43 91.86 614.78 91.75 615.13 91.59 615.48 91.52 615.83 91.18 616.18 90.93 616.53 90.4 616.88 89.9 617.23 89.18 617.58 88.41 617.93 87.3 618.28 86.23 618.63 85.04 618.97 83.97 619.32 82.95 619.67 82.04 620.02 81.34 620.37 81.06 620.72 81.19 621.07 81.75 621.42 82.56 621.77 83.58 622.12 84.82 622.47 86.01 622.82 87.05 623.17 88.13 623.52 88.86 623.87 89.52 624.22 89.93 624.57 90.35 624.92 90.6 625.27 90.59 625.62 90.63 625.97 90.6 626.31 90.41 626.66 90.26 627.01 90.17 627.36 90.19 627.71 90.07 628.06 90.15 628.41 90.25 628.76 90.36 629.11 90.55 629.46 90.8 629.81 90.91 630.16 91.18 630.51 91.3 630.86 91.52 631.21 91.71 631.56 91.72 631.91 91.88 632.26 92.03 632.61 91.99 632.96 91.92 633.31 91.9 633.65 92.07 634 91.98 634.35 92.11 634.7 92.04 635.05 92.11 635.4 92.03 635.75 92 636.1 92.08 636.45 92.02 636.8 92.03 637.15 92.15 637.5 92.19 637.85 92.24 638.2 92.3 638.55 92.14 638.9 92.09 639.25 92.17 639.6 92.2 639.95 92.09" fill="none" stroke="#0000ff" stroke-width="1.0" stroke-linejoin="round"/>
<line x1="639.65" y1="92.2" x2="644.05" y2="92.2" stroke="#000" stroke-width="1.2"/>
<path d="M402.9 198.01L404.99 201.81L400.81 201.81Z" fill="#000"/>
<path d="M414 191.99L416.09 188.19L411.91 188.19Z" fill="#000"/>
<path d="M418.8 188.39L420.89 184.59L416.71 184.59Z" fill="#000"/>
<circle cx="419.1" cy="182.4" r="1.99" fill="#000"/>
<circle cx="423" cy="201.3" r="1.99" fill="#000"/>
<circle cx="427.1" cy="199.2" r="1.99" fill="#000"/>
<path d="M439 180.51L441.09 184.31L436.91 184.31Z" fill="#000"/>
<circle cx="455.7" cy="198.1" r="1.99" fill="#000"/>
<rect x="462.1" y="158.3" width="3.8" height="3.8" fill="#000"/>
<path d="M464 153.31L466.09 157.11L461.91 157.11Z" fill="#000"/>
<path d="M468.8 192.29L470.89 188.49L466.71 188.49Z" fill="#000"/>
<rect x="479" y="185.9" width="3.8" height="3.8" fill="#000"/>
<path d="M501.2 199.89L503.29 196.09L499.11 196.09Z" fill="#000"/>
<rect x="529.1" y="190.9" width="3.8" height="3.8" fill="#000"/>
<path d="M546.5 198.91L548.59 202.71L544.41 202.71Z" fill="#000"/>
<rect x="562.7" y="193.9" width="3.8" height="3.8" fill="#000"/>
<rect x="573.5" y="198.7" width="3.8" height="3.8" fill="#000"/>
<line x1="370.4" y1="231.7" x2="583.7" y2="231.7" stroke="#000" stroke-width="1.7" stroke-linecap="square"/>
<line x1="370.4" y1="231.7" x2="370.4" y2="125" stroke="#000" stroke-width="1.7"/>
<line x1="583.7" y1="231.7" x2="649.6" y2="78.6" stroke="#000" stroke-width="1.7" stroke-linecap="square"/>
<line x1="383.73" y1="231.7" x2="383.73" y2="228.9" stroke="#000" stroke-width="1.5"/>
<line x1="397.06" y1="231.7" x2="397.06" y2="227.1" stroke="#000" stroke-width="1.5"/>
<line x1="410.39" y1="231.7" x2="410.39" y2="228.9" stroke="#000" stroke-width="1.5"/>
<line x1="423.73" y1="231.7" x2="423.73" y2="227.1" stroke="#000" stroke-width="1.5"/>
<line x1="437.06" y1="231.7" x2="437.06" y2="228.9" stroke="#000" stroke-width="1.5"/>
<line x1="450.39" y1="231.7" x2="450.39" y2="227.1" stroke="#000" stroke-width="1.5"/>
<line x1="463.72" y1="231.7" x2="463.72" y2="228.9" stroke="#000" stroke-width="1.5"/>
<line x1="477.05" y1="231.7" x2="477.05" y2="227.1" stroke="#000" stroke-width="1.5"/>
<line x1="490.38" y1="231.7" x2="490.38" y2="228.9" stroke="#000" stroke-width="1.5"/>
<line x1="503.71" y1="231.7" x2="503.71" y2="227.1" stroke="#000" stroke-width="1.5"/>
<line x1="517.04" y1="231.7" x2="517.04" y2="228.9" stroke="#000" stroke-width="1.5"/>
<line x1="530.38" y1="231.7" x2="530.38" y2="227.1" stroke="#000" stroke-width="1.5"/>
<line x1="543.71" y1="231.7" x2="543.71" y2="228.9" stroke="#000" stroke-width="1.5"/>
<line x1="557.04" y1="231.7" x2="557.04" y2="227.1" stroke="#000" stroke-width="1.5"/>
<line x1="570.37" y1="231.7" x2="570.37" y2="228.9" stroke="#000" stroke-width="1.5"/>
<text transform="translate(363.17 248.5) scale(1 1)" font-size="13.9">10</text>
<text transform="translate(390.11 248.5) scale(1 1)" font-size="13.9">20</text>
<text transform="translate(416.81 248.5) scale(1 1)" font-size="13.9">30</text>
<text transform="translate(443.61 248.5) scale(1 1)" font-size="13.9">40</text>
<text transform="translate(470.1 248.5) scale(1 1)" font-size="13.9">50</text>
<text transform="translate(496.8 248.5) scale(1 1)" font-size="13.9">60</text>
<text transform="translate(523.32 248.5) scale(1 1)" font-size="13.9">70</text>
<text transform="translate(550.12 248.5) scale(1 1)" font-size="13.9">80</text>
<text transform="translate(576.85 248.5) scale(1 1)" font-size="13.9">90</text>
<text transform="translate(598.81 209.5) scale(1.04 1)" font-size="11.88">0ppm</text>
<text transform="translate(617.75 164.8) scale(1.03 1)" font-size="10.83">500ppm</text>
<text transform="translate(633.39 127.5) scale(1.05 1)" font-size="9.77">2500ppm</text>
<text transform="translate(646.83 96.2) scale(1 1)" font-size="9.32">5000ppm</text>
<text transform="translate(446.47 263.4) scale(0.96 1)" font-size="13.74">2-Theta (&#176;)</text>
<text transform="translate(362 219.36) rotate(-90) scale(0.94 1)" font-size="13.89">Intensity (a.u.)</text>
<text transform="translate(330.98 16.02) scale(1.04 1)" font-size="21.76">(b)</text>
<rect x="371.2" y="11.13" width="7.4" height="7.4" fill="#000"/>
<text transform="translate(381.77 18.4) scale(1.09 1)" font-size="12.3">Al</text>
<path d="M374.9 32.36L378.97 39.76L370.83 39.76Z" fill="#000"/>
<text transform="translate(381.77 40) scale(1.09 1)" font-size="12.3"><tspan font-style="italic">&#947;</tspan>&#8722;AlOOH</text>
<path d="M374.9 61L378.97 53.6L370.83 53.6Z" fill="#000"/>
<text transform="translate(381.77 60.5) scale(1.09 1)" font-size="12.3">Al(OH)<tspan dy="3.44" font-size="11.69">3</tspan></text>
<circle cx="374.9" cy="75.93" r="3.89" fill="#000"/>
<text transform="translate(381.77 79.5) scale(1.09 1)" font-size="12.3">B<tspan dy="3.44" font-size="11.69">4</tspan><tspan dy="-3.44">C</tspan></text>
<line x1="337.12" y1="354.2" x2="337.12" y2="287.4" stroke="#b0b0b0" stroke-width="0.7"/>
<line x1="353.95" y1="354.2" x2="353.95" y2="287.4" stroke="#b0b0b0" stroke-width="0.7"/>
<line x1="370.77" y1="354.2" x2="370.77" y2="287.4" stroke="#b0b0b0" stroke-width="0.7"/>
<line x1="387.6" y1="354.2" x2="387.6" y2="287.4" stroke="#b0b0b0" stroke-width="0.7"/>
<line x1="404.42" y1="354.2" x2="404.42" y2="287.4" stroke="#b0b0b0" stroke-width="0.7"/>
<line x1="421.25" y1="354.2" x2="421.25" y2="287.4" stroke="#b0b0b0" stroke-width="0.7"/>
<line x1="438.07" y1="354.2" x2="438.07" y2="287.4" stroke="#b0b0b0" stroke-width="0.7"/>
<line x1="320.3" y1="344" x2="454.9" y2="344" stroke="#c2c2c2" stroke-width="0.7"/>
<line x1="320.3" y1="333.8" x2="454.9" y2="333.8" stroke="#c2c2c2" stroke-width="0.7"/>
<line x1="320.3" y1="323.6" x2="454.9" y2="323.6" stroke="#c2c2c2" stroke-width="0.7"/>
<line x1="320.3" y1="313.4" x2="454.9" y2="313.4" stroke="#c2c2c2" stroke-width="0.7"/>
<line x1="320.3" y1="303.2" x2="454.9" y2="303.2" stroke="#c2c2c2" stroke-width="0.7"/>
<line x1="320.3" y1="293" x2="454.9" y2="293" stroke="#c2c2c2" stroke-width="0.7"/>
<line x1="199.9" y1="479.1" x2="320.3" y2="344" stroke="#b0b0b0" stroke-width="0.7"/>
<line x1="199.9" y1="464.3" x2="320.3" y2="333.8" stroke="#b0b0b0" stroke-width="0.7"/>
<line x1="199.9" y1="449.5" x2="320.3" y2="323.6" stroke="#b0b0b0" stroke-width="0.7"/>
<line x1="199.9" y1="434.7" x2="320.3" y2="313.4" stroke="#b0b0b0" stroke-width="0.7"/>
<line x1="199.9" y1="419.9" x2="320.3" y2="303.2" stroke="#b0b0b0" stroke-width="0.7"/>
<line x1="199.9" y1="405.1" x2="320.3" y2="293" stroke="#b0b0b0" stroke-width="0.7"/>
<line x1="224.2" y1="493.9" x2="337.12" y2="354.2" stroke="#b0b0b0" stroke-width="0.7"/>
<line x1="248.5" y1="493.9" x2="353.95" y2="354.2" stroke="#b0b0b0" stroke-width="0.7"/>
<line x1="272.8" y1="493.9" x2="370.77" y2="354.2" stroke="#b0b0b0" stroke-width="0.7"/>
<line x1="297.1" y1="493.9" x2="387.6" y2="354.2" stroke="#b0b0b0" stroke-width="0.7"/>
<line x1="321.4" y1="493.9" x2="404.42" y2="354.2" stroke="#b0b0b0" stroke-width="0.7"/>
<line x1="345.7" y1="493.9" x2="421.25" y2="354.2" stroke="#b0b0b0" stroke-width="0.7"/>
<line x1="370" y1="493.9" x2="438.07" y2="354.2" stroke="#b0b0b0" stroke-width="0.7"/>
<line x1="216.5" y1="474.2" x2="402.85" y2="474.2" stroke="#dedede" stroke-width="0.6"/>
<line x1="216.5" y1="381.37" x2="216.5" y2="474.2" stroke="#dcdcdc" stroke-width="0.6"/>
<line x1="245.9" y1="440.2" x2="417.59" y2="440.2" stroke="#dedede" stroke-width="0.6"/>
<line x1="245.9" y1="354.76" x2="245.9" y2="440.2" stroke="#dcdcdc" stroke-width="0.6"/>
<line x1="271.3" y1="411.1" x2="430.22" y2="411.1" stroke="#dedede" stroke-width="0.6"/>
<line x1="271.3" y1="331.76" x2="271.3" y2="411.1" stroke="#dcdcdc" stroke-width="0.6"/>
<line x1="292.3" y1="386.1" x2="441.06" y2="386.1" stroke="#dedede" stroke-width="0.6"/>
<line x1="292.3" y1="312.75" x2="292.3" y2="386.1" stroke="#dcdcdc" stroke-width="0.6"/>
<line x1="311.6" y1="364" x2="450.65" y2="364" stroke="#dedede" stroke-width="0.6"/>
<line x1="311.6" y1="295.28" x2="311.6" y2="364" stroke="#dcdcdc" stroke-width="0.6"/>
<path d="M320.3 354.2L320.3 287.4L454.9 287.4L454.9 354.2" fill="none" stroke="#7a7a7a" stroke-width="0.8"/>
<line x1="320.3" y1="354.2" x2="454.9" y2="354.2" stroke="#7a7a7a" stroke-width="0.8"/>
<line x1="199.9" y1="396.4" x2="320.3" y2="287.4" stroke="#7a7a7a" stroke-width="0.8"/>
<line x1="199.9" y1="493.9" x2="320.3" y2="354.2" stroke="#7a7a7a" stroke-width="0.8"/>
<path d="M216.5 474.16 216.85 474.1 217.2 474.11 217.55 474.05 217.9 473.99 218.25 474.15 218.6 474.1 218.95 474.19 219.3 474.08 219.65 474.09 220 474.01 220.35 474.01 220.7 473.94 221.05 473.98 221.4 473.87 221.75 473.88 222.1 473.8 222.44 473.61 222.79 473.48 223.14 473.36 223.49 473.3 223.84 473.07 224.19 472.84 224.54 472.79 224.89 472.69 225.24 472.59 225.59 472.43 225.94 472.35 226.29 472.37 226.64 472.42 226.99 472.51 227.34 472.74 227.69 472.93 228.04 473.15 228.39 473.3 228.74 473.37 229.09 473.58 229.44 473.74 229.79 473.83 230.14 473.9 230.49 473.98 230.84 474.09 231.19 474.13 231.54 474.13 231.89 474.05 232.24 473.99 232.59 473.96 232.94 474.04 233.29 473.94 233.64 473.85 233.99 473.69 234.33 473.27 234.68 472.54 235.03 470.77 235.38 468.49 235.73 466.43 236.08 465.75 236.43 467.2 236.78 469.48 237.13 471.38 237.48 472.45 237.83 472.71 238.18 472.38 238.53 470.89 238.88 467.5 239.23 461.39 239.58 453.64 239.93 446.78 240.28 445 240.63 449.56 240.98 457.27 241.33 464.57 241.68 469.26 242.03 471.83 242.38 472.92 242.73 473.15 243.08 472.88 243.43 472.24 243.78 471.16 244.13 470.56 244.48 470.9 244.83 471.81 245.18 472.72 245.53 473.05 245.88 472.84 246.22 472.12 246.57 471.08 246.92 469.98 247.27 469.53 247.62 469.92 247.97 470.88 248.32 472.06 248.67 472.92 249.02 473.58 249.37 473.84 249.72 474 250.07 474.03 250.42 474.04 250.77 473.99 251.12 473.95 251.47 474.08 251.82 474.08 252.17 474.08 252.52 474.08 252.87 474.14 253.22 474.05 253.57 473.99 253.92 474.07 254.27 474.04 254.62 474.05 254.97 474.06 255.32 474.02 255.67 473.8 256.02 473.05 256.37 471.81 256.72 470.04 257.07 468.2 257.42 467.28 257.77 468.16 258.11 470.07 258.46 471.83 258.81 473.01 259.16 473.68 259.51 473.91 259.86 473.98 260.21 473.94 260.56 473.97 260.91 474.12 261.26 474.14 261.61 474.11 261.96 474.1 262.31 474.16 262.66 474.18 263.01 474.08 263.36 474.12 263.71 474.09 264.06 474.09 264.41 474.04 264.76 474.03 265.11 474.02 265.46 474.02 265.81 473.95 266.16 473.94 266.51 474.01 266.86 473.94 267.21 473.93 267.56 474.02 267.91 473.98 268.26 473.97 268.61 473.94 268.96 474.03 269.31 473.92 269.66 473.95 270 473.98 270.35 473.82 270.7 473.69 271.05 473.57 271.4 473.3 271.75 472.89 272.1 472.35 272.45 471.85 272.8 471.33 273.15 470.93 273.5 470.56 273.85 470.46 274.2 470.64 274.55 471.04 274.9 471.45 275.25 471.92 275.6 472.4 275.95 472.87 276.3 473.05 276.65 473.34 277 473.44 277.35 473.4 277.7 473.38 278.05 473.23 278.4 472.96 278.75 472.67 279.1 471.83 279.45 470.01 279.8 466.21 280.15 459.53 280.5 449.56 280.85 437.7 281.2 427.91 281.54 424.66 281.89 429.94 282.24 440.75 282.59 452.22 282.94 461.38 283.29 467.34 283.64 470.41 283.99 471.78 284.34 472.19 284.69 471.99 285.04 470.98 285.39 468.93 285.74 465.64 286.09 461.54 286.44 458.02 286.79 456.51 287.14 458.01 287.49 461.63 287.84 465.61 288.19 468.96 288.54 471.15 288.89 472.51 289.24 473.02 289.59 473.24 289.94 473.45 290.29 473.53 290.64 473.47 290.99 473.55 291.34 473.58 291.69 473.52 292.04 473.34 292.39 473.24 292.74 472.94 293.09 472.48 293.43 471.8 293.78 470.64 294.13 468.99 294.48 466.67 294.83 463.98 295.18 461.08 295.53 458.16 295.88 455.99 296.23 454.63 296.58 454.63 296.93 455.98 297.28 458.31 297.63 461.27 297.98 464.18 298.33 466.82 298.68 468.98 299.03 470.56 299.38 471.73 299.73 472.63 300.08 473.17 300.43 473.51 300.78 473.6 301.13 473.64 301.48 473.65 301.83 473.75 302.18 473.79 302.53 473.84 302.88 473.88 303.23 473.93 303.58 473.92 303.93 474.01 304.28 473.95 304.63 474.06 304.98 474.05 305.32 473.95 305.67 473.95 306.02 473.99 306.37 473.99 306.72 474.02 307.07 474 307.42 473.97 307.77 474.06 308.12 474.01 308.47 474.07 308.82 474.12 309.17 474.11 309.52 474.07 309.87 474.14 310.22 474.07 310.57 474.11 310.92 473.96 311.27 473.91 311.62 473.89 311.97 473.71 312.32 473.68 312.67 473.41 313.02 473.21 313.37 472.85 313.72 472.59 314.07 472.16 314.42 471.75 314.77 471.27 315.12 470.88 315.47 470.57 315.82 470.33 316.17 470.26 316.52 470.52 316.87 470.75 317.21 471.26 317.56 471.63 317.91 472.02 318.26 472.41 318.61 472.9 318.96 473.31 319.31 473.51 319.66 473.72 320.01 473.79 320.36 473.97 320.71 474.04 321.06 473.99 321.41 473.93 321.76 474.03 322.11 473.96 322.46 474.08 322.81 474.05 323.16 474.01 323.51 474.06 323.86 474.04 324.21 474.08 324.56 474.02 324.91 474.14 325.26 474.09 325.61 474.17 325.96 474.08 326.31 474.15 326.66 474.23 327.01 474.16 327.36 474.05 327.71 474.05 328.06 474.1 328.41 474.05 328.76 474.08 329.1 474.01 329.45 474.04 329.8 474.11 330.15 474.09 330.5 474.13 330.85 474.04 331.2 474.12 331.55 474.03 331.9 474.13 332.25 474.21 332.6 474.24 332.95 474.17 333.3 474.08 333.65 474.04 334 474.09 334.35 474.06 334.7 474.13 335.05 473.99 335.4 473.98 335.75 474.05 336.1 474.02 336.45 473.98 336.8 473.84 337.15 473.75 337.5 473.67 337.85 473.69 338.2 473.59 338.55 473.27 338.9 473.01 339.25 472.4 339.6 471.76 339.95 470.98 340.3 469.82 340.64 468.61 340.99 467.16 341.34 465.53 341.69 464.06 342.04 462.82 342.39 461.91 342.74 461.61 343.09 461.74 343.44 462.55 343.79 463.65 344.14 464.97 344.49 466.53 344.84 467.94 345.19 469.34 345.54 470.58 345.89 471.54 346.24 472.25 346.59 472.7 346.94 473.13 347.29 473.33 347.64 473.59 347.99 473.65 348.34 473.78 348.69 473.82 349.04 473.86 349.39 473.94 349.74 473.9 350.09 473.87 350.44 474.02 350.79 473.99 351.14 474.07 351.49 474.13 351.84 474.09 352.19 474 352.53 473.93 352.88 474.05 353.23 473.96 353.58 473.98 353.93 473.99 354.28 473.89 354.63 473.88 354.98 473.77 355.33 473.73 355.68 473.64 356.03 473.49 356.38 473.28 356.73 473.11 357.08 472.88 357.43 472.67 357.78 472.51 358.13 472.53 358.48 472.5 358.83 472.61 359.18 472.58 359.53 472.84 359.88 473 360.23 473.24 360.58 473.41 360.93 473.59 361.28 473.65 361.63 473.82 361.98 473.83 362.33 473.86 362.68 473.84 363.03 473.91 363.38 473.97 363.73 473.96 364.08 474.08 364.42 473.98 364.77 474.02 365.12 473.98 365.47 474.02 365.82 474.08 366.17 474.09 366.52 473.97 366.87 473.92 367.22 473.95 367.57 474.04 367.92 473.88 368.27 473.86 368.62 473.82 368.97 473.75 369.32 473.5 369.67 473.29 370.02 472.87 370.37 472.44 370.72 471.64 371.07 470.93 371.42 469.94 371.77 468.87 372.12 467.71 372.47 466.68 372.82 465.93 373.17 465.41 373.52 465.15 373.87 465.36 374.22 465.9 374.57 466.75 374.92 467.77 375.27 468.86 375.62 470.03 375.97 471.06 376.31 471.86 376.66 472.44 377.01 472.91 377.36 473.3 377.71 473.61 378.06 473.77 378.41 473.86 378.76 473.82 379.11 473.87 379.46 473.93 379.81 473.93 380.16 473.75 380.51 473.71 380.86 473.54 381.21 473.3 381.56 473.21 381.91 472.97 382.26 472.7 382.61 472.3 382.96 472.09 383.31 471.92 383.66 471.8 384.01 471.74 384.36 471.82 384.71 471.98 385.06 472.19 385.41 472.42 385.76 472.77 386.11 473.08 386.46 473.38 386.81 473.51 387.16 473.77 387.51 473.87 387.86 474.03 388.2 473.97 388.55 474.12 388.9 474.17 389.25 474.1 389.6 474.18 389.95 474.1 390.3 474.05 390.65 474.08 391 474.05 391.35 474.08 391.7 474.19 392.05 474.21 392.4 474.23 392.75 474.18 393.1 474.22 393.45 474.26 393.8 474.25 394.15 474.3 394.5 474.31 394.85 474.23 395.2 474.12 395.55 474.17 395.9 474.24 396.25 474.18 396.6 474.19 396.95 474.25 397.3 474.28 397.65 474.14 398 474.15 398.35 474.06 398.7 474.03 399.05 474.15" fill="none" stroke="#000" stroke-width="1.0" stroke-linejoin="round"/>
<line x1="398.75" y1="474.2" x2="403.15" y2="474.2" stroke="#000" stroke-width="1.2"/>
<path d="M245.9 440.15 246.25 440.18 246.6 440.16 246.95 440.13 247.3 440.08 247.65 440.08 248 440.18 248.35 440.19 248.7 440.13 249.05 440.05 249.4 440.03 249.75 440.1 250.1 440.09 250.45 440.12 250.8 440.15 251.15 440.02 251.5 440 251.85 439.77 252.2 439.6 252.55 439.06 252.9 438.29 253.25 437.42 253.6 436.28 253.94 435.32 254.29 435.04 254.64 435.4 254.99 436.35 255.34 437.38 255.69 438.36 256.04 439.19 256.39 439.63 256.74 439.97 257.09 439.99 257.44 440.11 257.79 440.04 258.14 440.07 258.49 439.99 258.84 439.97 259.19 440.12 259.54 440.1 259.89 440.17 260.24 440.09 260.59 440.06 260.94 439.97 261.29 439.98 261.64 439.97 261.99 439.73 262.34 439.3 262.69 438.84 263.04 438.31 263.39 437.94 263.74 437.89 264.09 438.37 264.44 438.92 264.79 439.47 265.14 439.61 265.49 439.55 265.84 439.2 266.19 438.56 266.54 437.93 266.89 437.57 267.24 437.73 267.59 438.22 267.94 438.83 268.29 439.49 268.64 439.73 268.99 440 269.34 440.1 269.69 440.12 270.03 440.11 270.38 440.15 270.73 440.21 271.08 440.2 271.43 440.19 271.78 440.02 272.13 439.9 272.48 439.64 272.83 439.39 273.18 438.88 273.53 438.1 273.88 437.61 274.23 437.56 274.58 437.89 274.93 438.56 275.28 439.25 275.63 439.71 275.98 439.89 276.33 440.07 276.68 440.06 277.03 440.09 277.38 440.09 277.73 440.19 278.08 440.19 278.43 440.22 278.78 440.22 279.13 440.15 279.48 440.23 279.83 440.22 280.18 440.21 280.53 440.12 280.88 440.04 281.23 440.07 281.58 440.13 281.93 440.15 282.28 440.06 282.63 439.95 282.98 439.93 283.33 439.92 283.68 439.51 284.03 438.49 284.38 435.74 284.73 431.71 285.08 429.18 285.43 431.12 285.77 435.16 286.12 438.21 286.47 439.54 286.82 439.79 287.17 439.83 287.52 439.89 287.87 439.54 288.22 438.84 288.57 437.91 288.92 437.4 289.27 437.97 289.62 438.94 289.97 439.59 290.32 439.96 290.67 439.97 291.02 439.93 291.37 440.05 291.72 440.02 292.07 440.08 292.42 440.07 292.77 440.08 293.12 439.98 293.47 439.87 293.82 439.89 294.17 439.79 294.52 439.66 294.87 439.47 295.22 439.18 295.57 438.67 295.92 438.09 296.27 437.54 296.62 436.84 296.97 436.15 297.32 435.72 297.67 435.47 298.02 435.64 298.37 435.93 298.72 436.59 299.07 437.23 299.42 437.8 299.77 438.42 300.12 438.75 300.47 438.98 300.82 439.07 301.17 439.2 301.52 439.27 301.86 439.22 302.21 439.05 302.56 438.88 302.91 438.32 303.26 437.32 303.61 435.15 303.96 430.61 304.31 422.21 304.66 409.57 305.01 394.39 305.36 381.06 305.71 375.92 306.06 381.88 306.41 395.4 306.76 410.5 307.11 422.92 307.46 430.96 307.81 435.32 308.16 437.51 308.51 438.43 308.86 438.86 309.21 439.12 309.56 439.34 309.91 439.34 310.26 439.4 310.61 439.39 310.96 439.47 311.31 439.54 311.66 439.65 312.01 439.69 312.36 439.69 312.71 439.65 313.06 439.64 313.41 439.57 313.76 439.61 314.11 439.57 314.46 439.48 314.81 439.14 315.16 438.8 315.51 438.22 315.86 437.23 316.21 435.86 316.56 433.93 316.91 431.4 317.26 428.48 317.6 425.34 317.95 422.5 318.3 420.24 318.65 419.36 319 419.93 319.35 421.78 319.7 424.44 320.05 427.44 320.4 430.52 320.75 433.24 321.1 435.29 321.45 436.81 321.8 437.86 322.15 438.51 322.5 439.02 322.85 439.37 323.2 439.51 323.55 439.48 323.9 439.47 324.25 439.26 324.6 439.19 324.95 438.91 325.3 438.51 325.65 438.22 326 437.75 326.35 437.32 326.7 436.85 327.05 436.55 327.4 436.35 327.75 436.33 328.1 436.3 328.45 436.62 328.8 436.88 329.15 437.28 329.5 437.79 329.85 438.22 330.2 438.61 330.55 439 330.9 439.23 331.25 439.54 331.6 439.64 331.95 439.85 332.3 439.98 332.65 440.01 333 439.93 333.34 440.04 333.69 439.95 334.04 440 334.39 440.01 334.74 439.95 335.09 440.03 335.44 440.1 335.79 440.11 336.14 440.09 336.49 440.1 336.84 440.12 337.19 440.06 337.54 440.15 337.89 440.24 338.24 440.25 338.59 440.29 338.94 440.19 339.29 440.26 339.64 440.12 339.99 440.11 340.34 440.04 340.69 440.07 341.04 440.13 341.39 440.17 341.74 440.14 342.09 440.1 342.44 440.05 342.79 440.06 343.14 440.04 343.49 440.02 343.84 440.11 344.19 440.12 344.54 440.11 344.89 440.06 345.24 440.12 345.59 440.06 345.94 440.04 346.29 440.09 346.64 440.14 346.99 440.23 347.34 440.23 347.69 440.28 348.04 440.3 348.39 440.27 348.74 440.25 349.09 440.1 349.43 440.05 349.78 439.97 350.13 440.09 350.48 440.14 350.83 440.14 351.18 440.07 351.53 440.05 351.88 439.99 352.23 440.05 352.58 440.15 352.93 440.07 353.28 439.97 353.63 439.93 353.98 439.94 354.33 440.04 354.68 440.08 355.03 440.03 355.38 439.92 355.73 439.85 356.08 439.8 356.43 439.87 356.78 439.83 357.13 439.87 357.48 439.81 357.83 439.66 358.18 439.37 358.53 439.07 358.88 438.47 359.23 437.73 359.58 436.9 359.93 435.81 360.28 434.45 360.63 432.94 360.98 431.3 361.33 429.9 361.68 428.59 362.03 427.65 362.38 427.2 362.73 427.21 363.08 427.89 363.43 428.96 363.78 430.44 364.13 432.04 364.48 433.48 364.83 434.82 365.17 436.06 365.52 437.16 365.87 437.97 366.22 438.5 366.57 439.05 366.92 439.42 367.27 439.6 367.62 439.63 367.97 439.83 368.32 439.89 368.67 439.83 369.02 439.86 369.37 439.94 369.72 440.04 370.07 440.03 370.42 440.06 370.77 439.99 371.12 439.96 371.47 440.08 371.82 440.05 372.17 439.98 372.52 440.03 372.87 439.97 373.22 439.96 373.57 440 373.92 440.05 374.27 440.09 374.62 440.13 374.97 440.1 375.32 440.01 375.67 440.09 376.02 440 376.37 440.03 376.72 440.04 377.07 440.09 377.42 440.14 377.77 440.07 378.12 440.1 378.47 440.14 378.82 440.11 379.17 440.03 379.52 440.13 379.87 440.13 380.22 440.02 380.57 439.98 380.92 440.11 381.26 440.03 381.61 440.01 381.96 440.08 382.31 440.12 382.66 440.1 383.01 440.1 383.36 439.96 383.71 439.87 384.06 439.97 384.41 439.97 384.76 439.78 385.11 439.61 385.46 439.47 385.81 439.41 386.16 439.08 386.51 438.77 386.86 438.39 387.21 437.8 387.56 437.15 387.91 436.24 388.26 435.27 388.61 434.26 388.96 433.46 389.31 432.57 389.66 432.05 390.01 431.67 390.36 431.48 390.71 431.76 391.06 432.17 391.41 432.9 391.76 433.69 392.11 434.7 392.46 435.7 392.81 436.61 393.16 437.23 393.51 437.97 393.86 438.49 394.21 438.96 394.56 439.25 394.91 439.48 395.26 439.63 395.61 439.76 395.96 439.68 396.31 439.6 396.66 439.61 397 439.51 397.35 439.4 397.7 439.17 398.05 439.09 398.4 438.8 398.75 438.71 399.1 438.59 399.45 438.42 399.8 438.25 400.15 438.31 400.5 438.33 400.85 438.49 401.2 438.62 401.55 438.98 401.9 439.2 402.25 439.36 402.6 439.47 402.95 439.7 403.3 439.89 403.65 440.03 404 439.97 404.35 440 404.7 440 405.05 440.1 405.4 440.04 405.75 440.1 406.1 440.21 406.45 440.23 406.8 440.1 407.15 440.03 407.5 440 407.85 440.1 408.2 440.14 408.55 440.15 408.9 440.14 409.25 440.13 409.6 440.16 409.95 440.19 410.3 440.26 410.65 440.27 411 440.29 411.35 440.32 411.7 440.33 412.05 440.31 412.4 440.16 412.75 440.2 413.09 440.26 413.44 440.21 413.79 440.27" fill="none" stroke="#ff0000" stroke-width="1.0" stroke-linejoin="round"/>
<line x1="413.49" y1="440.2" x2="417.89" y2="440.2" stroke="#000" stroke-width="1.2"/>
<path d="M271.3 411.01 271.65 411.12 272 411.09 272.35 411.12 272.7 411.05 273.05 411.01 273.4 411 273.75 410.99 274.09 410.93 274.44 410.96 274.79 411.08 275.14 411.08 275.49 411.12 275.84 411.08 276.19 411.04 276.54 410.98 276.89 410.82 277.24 410.53 277.59 410.23 277.94 409.97 278.29 409.64 278.64 409.43 278.99 409.43 279.34 409.5 279.68 409.53 280.03 409.77 280.38 410.04 280.73 410.33 281.08 410.56 281.43 410.7 281.78 410.74 282.13 410.92 282.48 410.93 282.83 411 283.18 410.99 283.53 411.02 283.88 411.13 284.23 411.03 284.58 411.04 284.93 411.07 285.27 411.07 285.62 411.15 285.97 411.09 286.32 411.15 286.67 411.15 287.02 411.19 287.37 411.05 287.72 410.98 288.07 410.95 288.42 411.03 288.77 410.85 289.12 410.65 289.47 410.37 289.82 409.99 290.17 409.53 290.52 409.57 290.86 410.03 291.21 410.51 291.56 410.84 291.91 410.99 292.26 410.93 292.61 410.82 292.96 410.55 293.31 410.2 293.66 409.44 294.01 408.68 294.36 408.54 294.71 409.01 295.06 409.75 295.41 410.33 295.76 410.48 296.1 409.94 296.45 408.17 296.8 405.38 297.15 403.49 297.5 404.59 297.85 407.38 298.2 409.45 298.55 410.36 298.9 410.71 299.25 410.93 299.6 410.98 299.95 410.94 300.3 411.01 300.65 410.93 301 410.87 301.35 410.87 301.69 410.89 302.04 410.95 302.39 410.94 302.74 410.98 303.09 410.88 303.44 410.97 303.79 410.89 304.14 410.93 304.49 410.77 304.84 410.8 305.19 410.64 305.54 410.56 305.89 410.09 306.24 408.3 306.59 403.33 306.94 394.74 307.28 387.49 307.63 389.38 307.98 397.88 308.33 405.42 308.68 409.07 309.03 410.27 309.38 410.52 309.73 410.59 310.08 410.62 310.43 410.82 310.78 410.82 311.13 410.88 311.48 410.9 311.83 410.85 312.18 410.78 312.52 410.74 312.87 410.87 313.22 410.81 313.57 410.93 313.92 410.89 314.27 410.92 314.62 410.83 314.97 410.89 315.32 410.81 315.67 410.78 316.02 410.78 316.37 410.68 316.72 410.62 317.07 410.66 317.42 410.5 317.77 410.24 318.11 409.73 318.46 408.48 318.81 406.47 319.16 403.83 319.51 401.31 319.86 400.04 320.21 400.89 320.56 403.19 320.91 405.89 321.26 407.84 321.61 409.16 321.96 409.82 322.31 409.94 322.66 409.86 323.01 409.79 323.36 409.58 323.7 409.37 324.05 409.01 324.4 408.06 324.75 405.94 325.1 401.18 325.45 391.29 325.8 374.59 326.15 352.2 326.5 330.11 326.85 318.64 327.2 325.18 327.55 345.3 327.9 368.61 328.25 387.3 328.6 398.95 328.95 404.96 329.29 407.73 329.64 408.87 329.99 409.47 330.34 409.84 330.69 410.06 331.04 410.08 331.39 410.28 331.74 410.34 332.09 410.33 332.44 410.31 332.79 410.44 333.14 410.36 333.49 410.22 333.84 410.06 334.19 409.97 334.53 409.7 334.88 409.57 335.23 409.46 335.58 409.6 335.93 409.7 336.28 409.62 336.63 409.29 336.98 408.25 337.33 406.17 337.68 402.94 338.03 398.14 338.38 392.41 338.73 387.07 339.08 384.09 339.43 384.69 339.78 388.51 340.12 394.12 340.47 399.72 340.82 404.14 341.17 407.05 341.52 408.82 341.87 409.76 342.22 410.24 342.57 410.38 342.92 410.58 343.27 410.74 343.62 410.8 343.97 410.88 344.32 410.83 344.67 410.92 345.02 410.84 345.37 410.81 345.71 410.87 346.06 410.97 346.41 410.87 346.76 410.84 347.11 410.79 347.46 410.85 347.81 410.82 348.16 410.82 348.51 410.93 348.86 410.97 349.21 411.07 349.56 411.02 349.91 411.04 350.26 410.93 350.61 411.05 350.95 410.98 351.3 410.99 351.65 411 352 411.09 352.35 411.06 352.7 411.14 353.05 411.12 353.4 411.02 353.75 411.09 354.1 411 354.45 411.11 354.8 411.07 355.15 411 355.5 411.1 355.85 411.04 356.2 411.02 356.54 410.99 356.89 411.04 357.24 410.94 357.59 410.95 357.94 410.92 358.29 411.03 358.64 410.93 358.99 410.99 359.34 410.96 359.69 410.98 360.04 411.01 360.39 411.06 360.74 410.98 361.09 410.95 361.44 410.9 361.79 411.05 362.13 410.97 362.48 410.92 362.83 410.97 363.18 411 363.53 411.09 363.88 410.97 364.23 410.94 364.58 410.9 364.93 410.96 365.28 410.97 365.63 410.97 365.98 411.06 366.33 411.07 366.68 411.11 367.03 411.16 367.38 411.04 367.72 411.11 368.07 411.04 368.42 410.92 368.77 411.02 369.12 410.92 369.47 410.84 369.82 410.84 370.17 410.83 370.52 410.96 370.87 411.02 371.22 410.95 371.57 410.93 371.92 410.97 372.27 410.98 372.62 410.94 372.96 410.88 373.31 410.74 373.66 410.66 374.01 410.65 374.36 410.58 374.71 410.48 375.06 410.31 375.41 410.03 375.76 409.42 376.11 408.65 376.46 407.87 376.81 406.73 377.16 405.26 377.51 403.72 377.86 401.93 378.21 400.15 378.55 398.55 378.9 397.3 379.25 396.58 379.6 396.35 379.95 396.95 380.3 398.07 380.65 399.55 381 401.29 381.35 403.09 381.7 404.62 382.05 406.11 382.4 407.4 382.75 408.43 383.1 409.19 383.45 409.65 383.8 410.14 384.14 410.43 384.49 410.52 384.84 410.62 385.19 410.79 385.54 410.75 385.89 410.77 386.24 410.9 386.59 410.98 386.94 410.89 387.29 410.94 387.64 410.9 387.99 410.95 388.34 410.99 388.69 410.9 389.04 410.86 389.38 410.84 389.73 410.84 390.08 410.8 390.43 410.79 390.78 410.84 391.13 410.88 391.48 410.83 391.83 410.91 392.18 411.02 392.53 411.02 392.88 410.97 393.23 411.01 393.58 410.99 393.93 410.92 394.28 410.93 394.63 410.85 394.97 410.93 395.32 410.88 395.67 410.88 396.02 411 396.37 411.03 396.72 411.06 397.07 411.04 397.42 411.02 397.77 411.02 398.12 411.07 398.47 410.93 398.82 410.96 399.17 410.88 399.52 410.8 399.87 410.86 400.22 410.82 400.56 410.82 400.91 410.76 401.26 410.59 401.61 410.29 401.96 409.9 402.31 409.52 402.66 409.01 403.01 408.2 403.36 407.18 403.71 406 404.06 404.73 404.41 403.5 404.76 402.13 405.11 400.99 405.46 400.18 405.81 399.88 406.15 400.11 406.5 400.58 406.85 401.5 407.2 402.86 407.55 404.27 407.9 405.47 408.25 406.64 408.6 407.7 408.95 408.53 409.3 409.18 409.65 409.68 410 409.96 410.35 410.1 410.7 410.16 411.05 410.17 411.39 410.1 411.74 410.1 412.09 410.02 412.44 409.81 412.79 409.72 413.14 409.58 413.49 409.4 413.84 409.31 414.19 409.24 414.54 409.42 414.89 409.54 415.24 409.61 415.59 409.77 415.94 410.06 416.29 410.24 416.64 410.47 416.98 410.55 417.33 410.75 417.68 410.88 418.03 410.84 418.38 410.92 418.73 410.89 419.08 410.98 419.43 411.05 419.78 411.1 420.13 411.01 420.48 410.94 420.83 411.01 421.18 411.03 421.53 410.96 421.88 410.93 422.23 410.99 422.57 410.94 422.92 411.01 423.27 410.97 423.62 410.96 423.97 410.98 424.32 411.02 424.67 411.08 425.02 410.98 425.37 411.05 425.72 411 426.07 410.98 426.42 411.04" fill="none" stroke="#22ee00" stroke-width="1.0" stroke-linejoin="round"/>
<line x1="426.12" y1="411.1" x2="430.52" y2="411.1" stroke="#000" stroke-width="1.2"/>
<path d="M292.3 386.12 292.65 386.12 293 386.18 293.35 386.08 293.7 386.04 294.05 386.08 294.4 386.03 294.75 385.97 295.09 385.95 295.44 386.04 295.79 386.1 296.14 386.1 296.49 386.12 296.84 386.08 297.19 385.91 297.54 385.76 297.89 385.69 298.24 385.45 298.59 385.37 298.94 385.19 299.29 385.07 299.64 385.12 299.98 385.14 300.33 385.37 300.68 385.57 301.03 385.66 301.38 385.7 301.73 385.74 302.08 385.86 302.43 385.94 302.78 385.96 303.13 386.04 303.48 386.06 303.83 386.11 304.18 386.01 304.53 385.95 304.88 385.97 305.22 386 305.57 385.98 305.92 386.04 306.27 386 306.62 385.98 306.97 386.01 307.32 386.07 307.67 386.12 308.02 386.07 308.37 386.05 308.72 386.14 309.07 386.19 309.42 386.15 309.77 386.03 310.11 386.02 310.46 386.05 310.81 385.99 311.16 385.91 311.51 386.04 311.86 386.08 312.21 385.91 312.56 385.76 312.91 385.42 313.26 384.72 313.61 383.86 313.96 383.5 314.31 383.82 314.66 384.51 315 385.05 315.35 385.27 315.7 384.83 316.05 383.91 316.4 382.27 316.75 381.05 317.1 381.26 317.45 382.54 317.8 384.01 318.15 385.02 318.5 385.52 318.85 385.77 319.2 385.94 319.55 385.89 319.9 385.87 320.24 385.97 320.59 385.96 320.94 385.94 321.29 385.88 321.64 385.86 321.99 386 322.34 385.9 322.69 385.87 323.04 385.93 323.39 385.99 323.74 386 324.09 385.85 324.44 385.66 324.79 385 325.13 383.63 325.48 381.61 325.83 379.51 326.18 378.48 326.53 379.25 326.88 381.3 327.23 383.47 327.58 384.74 327.93 385.5 328.28 385.72 328.63 385.77 328.98 385.79 329.33 385.84 329.68 385.97 330.03 385.88 330.37 385.97 330.72 385.91 331.07 385.85 331.42 385.92 331.77 385.88 332.12 385.82 332.47 385.83 332.82 385.91 333.17 385.96 333.52 385.92 333.87 385.77 334.22 385.82 334.57 385.81 334.92 385.83 335.26 385.8 335.61 385.54 335.96 385.22 336.31 384.5 336.66 383.13 337.01 381.33 337.36 379.5 337.71 378.41 338.06 378.72 338.41 380.11 338.76 381.87 339.11 383.45 339.46 384.32 339.81 384.75 340.15 384.91 340.5 384.84 340.85 384.53 341.2 384.24 341.55 383.5 341.9 381.78 342.25 377.59 342.6 368.86 342.95 353.61 343.3 332.24 343.65 310.16 344 296.82 344.35 300.61 344.7 318.74 345.05 341.47 345.39 360.56 345.74 373.07 346.09 379.58 346.44 382.61 346.79 383.9 347.14 384.5 347.49 384.68 347.84 384.98 348.19 385.14 348.54 385.26 348.89 385.33 349.24 385.28 349.59 385.41 349.94 385.43 350.28 385.43 350.63 385.39 350.98 385.45 351.33 385.46 351.68 385.46 352.03 385.27 352.38 385.07 352.73 384.71 353.08 383.98 353.43 382.61 353.78 380.03 354.13 376.06 354.48 370.35 354.83 363.77 355.18 357.93 355.52 355.05 355.87 356.26 356.22 361.15 356.57 367.62 356.92 373.9 357.27 378.8 357.62 381.91 357.97 383.76 358.32 384.77 358.67 385.19 359.02 385.48 359.37 385.61 359.72 385.62 360.07 385.74 360.41 385.77 360.76 385.71 361.11 385.78 361.46 385.87 361.81 385.88 362.16 385.88 362.51 385.87 362.86 385.97 363.21 385.98 363.56 385.91 363.91 385.89 364.26 385.89 364.61 386.01 364.96 386.03 365.31 385.93 365.65 386.03 366 385.92 366.35 385.97 366.7 385.96 367.05 386.02 367.4 386 367.75 385.92 368.1 385.96 368.45 386.04 368.8 386.09 369.15 386.03 369.5 385.97 369.85 386.03 370.2 386.09 370.54 386 370.89 386.09 371.24 386.16 371.59 386.09 371.94 386.04 372.29 386.07 372.64 386.14 372.99 386.03 373.34 385.99 373.69 385.97 374.04 386.04 374.39 385.97 374.74 386 375.09 386.01 375.43 386.05 375.78 385.97 376.13 386.08 376.48 386.16 376.83 386.11 377.18 386.13 377.53 386.02 377.88 386.1 378.23 386.08 378.58 386.1 378.93 386.14 379.28 386.06 379.63 386.12 379.98 386.01 380.33 385.91 380.67 385.95 381.02 386.04 381.37 386.1 381.72 386.14 382.07 386.08 382.42 386.12 382.77 386.07 383.12 385.95 383.47 385.98 383.82 386.02 384.17 385.97 384.52 385.97 384.87 385.89 385.22 385.85 385.56 385.84 385.91 385.85 386.26 385.83 386.61 385.73 386.96 385.64 387.31 385.62 387.66 385.65 388.01 385.62 388.36 385.41 388.71 385.15 389.06 384.86 389.41 384.35 389.76 383.76 390.11 383 390.46 381.83 390.8 380.55 391.15 379.09 391.5 377.51 391.85 375.92 392.2 374.47 392.55 373.25 392.9 372.68 393.25 372.69 393.6 373.11 393.95 374.27 394.3 375.64 394.65 377.14 395 378.69 395.35 380.32 395.69 381.7 396.04 382.74 396.39 383.64 396.74 384.35 397.09 384.94 397.44 385.2 397.79 385.48 398.14 385.55 398.49 385.6 398.84 385.63 399.19 385.7 399.54 385.79 399.89 385.78 400.24 385.76 400.59 385.76 400.93 385.74 401.28 385.75 401.63 385.78 401.98 385.84 402.33 385.82 402.68 385.87 403.03 385.89 403.38 386.01 403.73 385.98 404.08 386.06 404.43 386.02 404.78 385.93 405.13 385.96 405.48 385.89 405.82 385.85 406.17 385.81 406.52 385.91 406.87 386.02 407.22 385.97 407.57 385.93 407.92 385.92 408.27 385.9 408.62 385.95 408.97 385.92 409.32 385.85 409.67 385.94 410.02 385.94 410.37 385.81 410.71 385.9 411.06 385.92 411.41 385.84 411.76 385.84 412.11 385.87 412.46 385.74 412.81 385.61 413.16 385.41 413.51 385.19 413.86 384.86 414.21 384.37 414.56 383.71 414.91 382.62 415.26 381.4 415.61 380.09 415.95 378.63 416.3 377.12 416.65 375.82 417 374.82 417.35 374.5 417.7 374.7 418.05 375.44 418.4 376.59 418.75 377.98 419.1 379.61 419.45 381.08 419.8 382.2 420.15 383.19 420.5 383.98 420.84 384.54 421.19 384.86 421.54 385.14 421.89 385.14 422.24 385.07 422.59 384.98 422.94 384.71 423.29 384.31 423.64 383.83 423.99 383.33 424.34 382.87 424.69 382.46 425.04 382.01 425.39 381.74 425.74 381.66 426.08 381.77 426.43 382.17 426.78 382.59 427.13 383.02 427.48 383.51 427.83 384.09 428.18 384.46 428.53 384.9 428.88 385.1 429.23 385.31 429.58 385.45 429.93 385.69 430.28 385.72 430.63 385.76 430.97 385.76 431.32 385.8 431.67 385.92 432.02 385.99 432.37 386.08 432.72 386.14 433.07 386.1 433.42 386.15 433.77 386.02 434.12 386.1 434.47 386.06 434.82 385.99 435.17 386.06 435.52 386.12 435.86 386.07 436.21 385.98 436.56 386.08 436.91 386.12 437.26 386.11" fill="none" stroke="#0000ff" stroke-width="1.0" stroke-linejoin="round"/>
<line x1="436.96" y1="386.1" x2="441.36" y2="386.1" stroke="#000" stroke-width="1.2"/>
<path d="M311.6 364.09 311.95 363.96 312.3 363.88 312.65 363.85 313 363.81 313.35 363.92 313.7 363.98 314.05 363.9 314.4 363.87 314.75 363.85 315.09 363.93 315.44 363.99 315.79 364.08 316.14 364.02 316.49 364.1 316.84 364.04 317.19 364 317.54 363.95 317.89 363.91 318.24 364.04 318.59 364.12 318.94 364.11 319.29 363.99 319.64 363.93 319.99 363.88 320.34 363.89 320.69 363.98 321.04 363.89 321.39 363.94 321.73 363.99 322.08 363.9 322.43 363.92 322.78 364 323.13 364.01 323.48 363.99 323.83 364.06 324.18 364.05 324.53 363.99 324.88 363.97 325.23 364.06 325.58 364.1 325.93 364.13 326.28 364.08 326.63 363.97 326.98 363.91 327.33 363.91 327.68 363.97 328.03 363.87 328.38 363.97 328.72 364.03 329.07 364 329.42 363.89 329.77 363.97 330.12 363.95 330.47 363.98 330.82 363.97 331.17 363.98 331.52 363.88 331.87 363.84 332.22 363.66 332.57 363.29 332.92 362.75 333.27 362.22 333.62 362 333.97 362.16 334.32 362.72 334.67 363.25 335.02 363.64 335.36 363.88 335.71 364.04 336.06 364.05 336.41 363.98 336.76 364.02 337.11 363.94 337.46 363.97 337.81 363.89 338.16 363.99 338.51 363.97 338.86 363.92 339.21 364.02 339.56 363.91 339.91 364.01 340.26 364.04 340.61 363.93 340.96 363.99 341.31 363.99 341.66 364.05 342 364.02 342.35 363.98 342.7 364.05 343.05 363.92 343.4 363.98 343.75 363.88 344.1 363.85 344.45 363.8 344.8 363.92 345.15 363.91 345.5 363.95 345.85 363.89 346.2 363.94 346.55 363.95 346.9 363.84 347.25 363.86 347.6 363.9 347.95 363.83 348.3 363.87 348.64 363.81 348.99 363.78 349.34 363.87 349.69 363.91 350.04 363.94 350.39 363.82 350.74 363.75 351.09 363.71 351.44 363.53 351.79 362.94 352.14 361.67 352.49 359.07 352.84 355.8 353.19 353.35 353.54 353.81 353.89 356.82 354.24 359.87 354.59 361.94 354.94 362.76 355.29 363.17 355.63 363.19 355.98 363.16 356.33 362.94 356.68 362.75 357.03 362.27 357.38 361.16 357.73 358.72 358.08 353.28 358.43 343.86 358.78 330.45 359.13 316.43 359.48 307.59 359.83 309.23 360.18 320.49 360.53 334.92 360.88 347.31 361.23 355.45 361.58 359.72 361.93 361.76 362.27 362.48 362.62 362.79 362.97 363.08 363.32 363.14 363.67 363.2 364.02 363.31 364.37 363.36 364.72 363.36 365.07 363.51 365.42 363.52 365.77 363.57 366.12 363.49 366.47 363.56 366.82 363.43 367.17 363.43 367.52 363.23 367.87 362.91 368.22 362.1 368.57 360.57 368.91 358.1 369.26 354.76 369.61 350.77 369.96 347.12 370.31 345.34 370.66 346.04 371.01 348.91 371.36 352.8 371.71 356.45 372.06 359.35 372.41 361.32 372.76 362.36 373.11 362.56 373.46 361.82 373.81 360.6 374.16 359.36 374.51 359.09 374.86 360.09 375.21 361.53 375.55 362.71 375.9 363.34 376.25 363.56 376.6 363.66 376.95 363.74 377.3 363.83 377.65 363.86 378 363.79 378.35 363.9 378.7 363.87 379.05 363.97 379.4 364.03 379.75 363.91 380.1 363.92 380.45 364.01 380.8 363.95 381.15 363.94 381.5 363.9 381.85 363.81 382.2 363.8 382.54 363.77 382.89 363.79 383.24 363.87 383.59 363.91 383.94 364.01 384.29 364.01 384.64 363.96 384.99 364.04 385.34 364.02 385.69 364 386.04 364.05 386.39 364.04 386.74 363.97 387.09 363.98 387.44 363.92 387.79 364.02 388.14 363.94 388.49 364.03 388.84 363.91 389.18 363.82 389.53 363.88 389.88 363.84 390.23 363.88 390.58 363.82 390.93 363.93 391.28 363.97 391.63 363.99 391.98 364.05 392.33 364.1 392.68 364.06 393.03 364.05 393.38 363.89 393.73 363.81 394.08 363.83 394.43 363.96 394.78 363.9 395.13 363.91 395.48 363.8 395.82 363.82 396.17 363.92 396.52 363.92 396.87 363.96 397.22 363.81 397.57 363.76 397.92 363.72 398.27 363.82 398.62 363.72 398.97 363.82 399.32 363.73 399.67 363.77 400.02 363.69 400.37 363.55 400.72 363.5 401.07 363.23 401.42 362.92 401.77 362.32 402.12 361.72 402.46 360.9 402.81 359.64 403.16 358.37 403.51 356.86 403.86 355.34 404.21 354.05 404.56 353.16 404.91 352.8 405.26 353.02 405.61 353.77 405.96 354.87 406.31 356.24 406.66 357.59 407.01 359.04 407.36 360.27 407.71 361.24 408.06 362.12 408.41 362.62 408.76 362.96 409.11 363.2 409.45 363.35 409.8 363.54 410.15 363.7 410.5 363.67 410.85 363.73 411.2 363.78 411.55 363.81 411.9 363.8 412.25 363.83 412.6 363.74 412.95 363.7 413.3 363.75 413.65 363.75 414 363.85 414.35 363.81 414.7 363.9 415.05 363.84 415.4 363.78 415.75 363.82 416.09 363.82 416.44 363.82 416.79 363.9 417.14 363.84 417.49 363.89 417.84 363.95 418.19 363.91 418.54 363.9 418.89 363.97 419.24 363.95 419.59 363.85 419.94 363.76 420.29 363.71 420.64 363.73 420.99 363.68 421.34 363.76 421.69 363.75 422.04 363.71 422.39 363.71 422.73 363.77 423.08 363.62 423.43 363.44 423.78 363.25 424.13 362.98 424.48 362.71 424.83 362.19 425.18 361.43 425.53 360.46 425.88 359.35 426.23 358.18 426.58 357.17 426.93 356.2 427.28 355.39 427.63 355.1 427.98 355.15 428.33 355.77 428.68 356.67 429.03 357.71 429.37 358.94 429.72 360.07 430.07 361 430.42 361.68 430.77 362.3 431.12 362.65 431.47 362.9 431.82 362.89 432.17 362.96 432.52 362.74 432.87 362.55 433.22 362.39 433.57 362.17 433.92 361.98 434.27 361.98 434.62 362.07 434.97 362.07 435.32 362.15 435.67 362.39 436.02 362.55 436.36 362.78 436.71 363.06 437.06 363.24 437.41 363.35 437.76 363.43 438.11 363.6 438.46 363.8 438.81 363.92 439.16 363.84 439.51 363.87 439.86 363.89 440.21 363.84 440.56 363.91 440.91 363.92 441.26 363.99 441.61 363.93 441.96 364.02 442.31 364.05 442.66 364.01 443 363.91 443.35 363.93 443.7 363.86 444.05 363.94 444.4 363.99 444.75 363.99 445.1 364.08 445.45 363.94 445.8 363.99 446.15 364.04 446.5 363.94 446.85 363.91" fill="none" stroke="#55f5f5" stroke-width="1.0" stroke-linejoin="round"/>
<line x1="446.55" y1="364" x2="450.95" y2="364" stroke="#000" stroke-width="1.2"/>
<path d="M225.8 467.51L227.89 471.31L223.71 471.31Z" fill="#000"/>
<path d="M235.7 465.09L237.79 461.29L233.61 461.29Z" fill="#000"/>
<path d="M240.2 444.39L242.29 440.59L238.11 440.59Z" fill="#000"/>
<circle cx="240.2" cy="438.4" r="1.99" fill="#000"/>
<circle cx="244.4" cy="469.2" r="1.99" fill="#000"/>
<circle cx="248" cy="466.6" r="1.99" fill="#000"/>
<path d="M257.4 462.41L259.49 466.21L255.31 466.21Z" fill="#000"/>
<circle cx="273.8" cy="466.9" r="1.99" fill="#000"/>
<rect x="279.6" y="419.3" width="3.8" height="3.8" fill="#000"/>
<path d="M281.6 413.81L283.69 417.61L279.51 417.61Z" fill="#000"/>
<path d="M287.5 455.59L289.59 451.79L285.41 451.79Z" fill="#000"/>
<rect x="294.5" y="449.3" width="3.8" height="3.8" fill="#000"/>
<path d="M316.9 468.59L318.99 464.79L314.81 464.79Z" fill="#000"/>
<rect x="341.1" y="456.7" width="3.8" height="3.8" fill="#000"/>
<path d="M358.5 469.21L360.59 473.01L356.41 473.01Z" fill="#000"/>
<rect x="372.1" y="460.4" width="3.8" height="3.8" fill="#000"/>
<rect x="382.5" y="467.7" width="3.8" height="3.8" fill="#000"/>
<line x1="199.9" y1="493.9" x2="394.3" y2="493.9" stroke="#000" stroke-width="1.7" stroke-linecap="square"/>
<line x1="199.9" y1="493.9" x2="199.9" y2="396.4" stroke="#000" stroke-width="1.7"/>
<line x1="394.3" y1="493.9" x2="454.9" y2="354.2" stroke="#000" stroke-width="1.7" stroke-linecap="square"/>
<line x1="212.05" y1="493.9" x2="212.05" y2="491.1" stroke="#000" stroke-width="1.5"/>
<line x1="224.2" y1="493.9" x2="224.2" y2="489.3" stroke="#000" stroke-width="1.5"/>
<line x1="236.35" y1="493.9" x2="236.35" y2="491.1" stroke="#000" stroke-width="1.5"/>
<line x1="248.5" y1="493.9" x2="248.5" y2="489.3" stroke="#000" stroke-width="1.5"/>
<line x1="260.65" y1="493.9" x2="260.65" y2="491.1" stroke="#000" stroke-width="1.5"/>
<line x1="272.8" y1="493.9" x2="272.8" y2="489.3" stroke="#000" stroke-width="1.5"/>
<line x1="284.95" y1="493.9" x2="284.95" y2="491.1" stroke="#000" stroke-width="1.5"/>
<line x1="297.1" y1="493.9" x2="297.1" y2="489.3" stroke="#000" stroke-width="1.5"/>
<line x1="309.25" y1="493.9" x2="309.25" y2="491.1" stroke="#000" stroke-width="1.5"/>
<line x1="321.4" y1="493.9" x2="321.4" y2="489.3" stroke="#000" stroke-width="1.5"/>
<line x1="333.55" y1="493.9" x2="333.55" y2="491.1" stroke="#000" stroke-width="1.5"/>
<line x1="345.7" y1="493.9" x2="345.7" y2="489.3" stroke="#000" stroke-width="1.5"/>
<line x1="357.85" y1="493.9" x2="357.85" y2="491.1" stroke="#000" stroke-width="1.5"/>
<line x1="370" y1="493.9" x2="370" y2="489.3" stroke="#000" stroke-width="1.5"/>
<line x1="382.15" y1="493.9" x2="382.15" y2="491.1" stroke="#000" stroke-width="1.5"/>
<text transform="translate(192.15 512.2) scale(1 1)" font-size="14.9">10</text>
<text transform="translate(216.75 512.2) scale(1 1)" font-size="14.9">20</text>
<text transform="translate(241.09 512.2) scale(1 1)" font-size="14.9">30</text>
<text transform="translate(265.54 512.2) scale(1 1)" font-size="14.9">40</text>
<text transform="translate(289.65 512.2) scale(1 1)" font-size="14.9">50</text>
<text transform="translate(313.99 512.2) scale(1 1)" font-size="14.9">60</text>
<text transform="translate(338.14 512.2) scale(1 1)" font-size="14.9">70</text>
<text transform="translate(362.59 512.2) scale(1 1)" font-size="14.9">80</text>
<text transform="translate(386.96 512.2) scale(1 1)" font-size="14.9">90</text>
<text transform="translate(407.27 479.8) scale(1 1)" font-size="13.38">0ppm</text>
<text transform="translate(421.3 444.8) scale(1.04 1)" font-size="11.88">500ppm</text>
<text transform="translate(433.94 415.7) scale(0.99 1)" font-size="11.58">2500ppm</text>
<text transform="translate(444.77 390.4) scale(0.98 1)" font-size="10.83">5000ppm</text>
<text transform="translate(453.59 367.9) scale(1 1)" font-size="10.08">10000ppm</text>
<text transform="translate(264.23 527.8) scale(0.99 1)" font-size="14.35">2-Theta (&#176;)</text>
<text transform="translate(190 489.39) rotate(-90) scale(1.01 1)" font-size="13.89">Intensity (a.u.)</text>
<text transform="translate(161.57 289.33) scale(1.05 1)" font-size="24.07">(c)</text>
<rect x="202.2" y="289.85" width="7.6" height="7.6" fill="#000"/>
<text transform="translate(213.86 297.3) scale(1.11 1)" font-size="12.6">Al</text>
<path d="M206 306.77L210.18 314.37L201.82 314.37Z" fill="#000"/>
<text transform="translate(213.86 314.6) scale(1.11 1)" font-size="12.6"><tspan font-style="italic">&#947;</tspan>&#8722;AlOOH</text>
<path d="M206 334.33L210.18 326.73L201.82 326.73Z" fill="#000"/>
<text transform="translate(213.86 333.8) scale(1.11 1)" font-size="12.6">Al(OH)<tspan dy="3.53" font-size="11.97">3</tspan></text>
<circle cx="206" cy="348.85" r="3.99" fill="#000"/>
<text transform="translate(213.86 352.5) scale(1.11 1)" font-size="12.6">B<tspan dy="3.53" font-size="11.97">4</tspan><tspan dy="-3.53">C</tspan></text>
</svg>
</body></html>
